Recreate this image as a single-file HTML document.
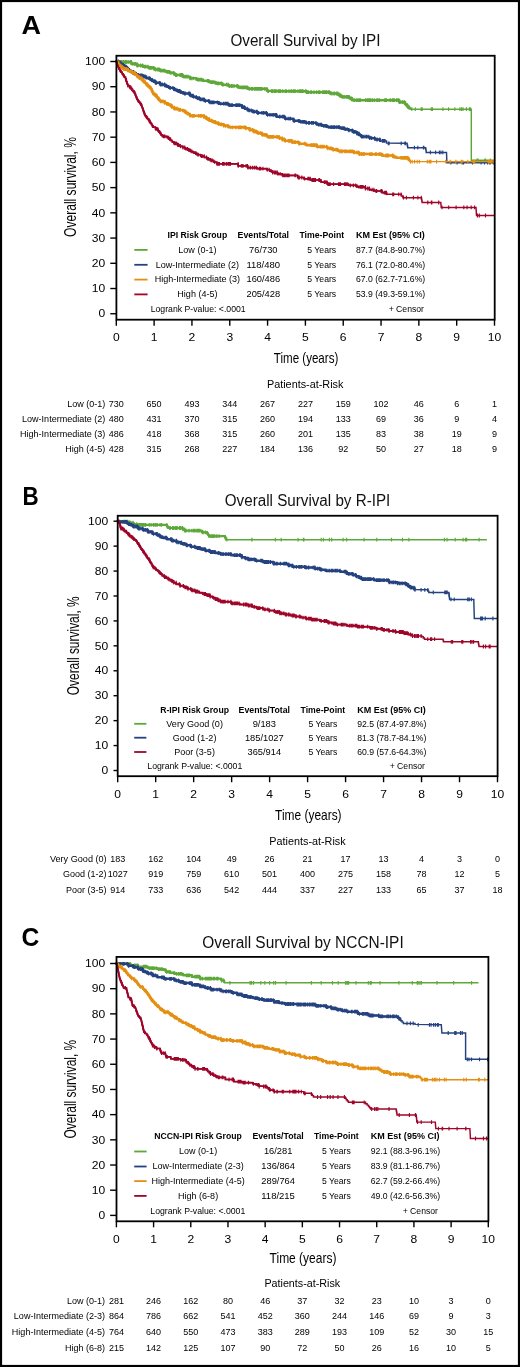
<!DOCTYPE html>
<html><head><meta charset="utf-8"><style>
html,body{margin:0;padding:0;background:#fff;}
body{width:520px;height:1367px;overflow:hidden;}
svg{display:block;font-family:"Liberation Sans", sans-serif;will-change:transform;}
</style></head><body>
<svg width="520" height="1367" viewBox="0 0 520 1367">
<rect x="0" y="0" width="520" height="1367" fill="#fff"/>
<rect x="1" y="1" width="518" height="1365" fill="none" stroke="#000" stroke-width="2.2"/>
<text x="21.50" y="34.10" font-size="25" font-weight="bold" textLength="19.50" lengthAdjust="spacingAndGlyphs" fill="#000">A</text>
<text x="230.40" y="45.80" font-size="16" textLength="150.00" lengthAdjust="spacingAndGlyphs" fill="#111">Overall Survival by IPI</text>
<path d="M116.3,61.5 123.2,62.0 131.3,62.0 131.3,63.8 137.1,63.8 137.1,65.5 142.8,65.5 142.8,66.7 148.6,66.7 148.6,67.8 154.4,67.8 154.4,69.5 160.1,69.5 160.1,70.7 165.9,70.7 165.9,71.8 169.9,71.8 169.9,72.9 174.0,72.9 174.0,74.1 175.5,74.1 175.5,75.0 182.8,75.0 182.8,76.7 190.0,76.7 190.0,78.3 196.4,78.3 196.4,79.6 202.8,79.6 202.8,80.8 209.2,80.8 209.2,82.1 215.6,82.1 215.6,83.4 222.1,83.4 222.1,84.7 228.5,84.7 228.5,86.0 238.1,86.0 238.1,87.4 247.7,87.4 247.7,88.8 266.9,88.8 266.9,90.8 285.0,91.2 306.2,91.2 306.2,92.2 330.0,92.2 330.0,93.5 337.7,93.5 337.7,94.4 339.6,94.4 339.6,95.7 341.5,95.7 341.5,96.9 349.2,96.9 349.2,98.3 352.1,98.3 352.1,100.2 395.4,100.2 399.2,100.2 399.2,102.1 405.0,102.1 405.0,104.0 406.3,104.0 406.3,105.3 407.5,105.3 407.5,106.6 408.8,106.6 408.8,107.9 410.8,107.9 410.8,109.2 471.3,109.2 471.3,160.3 494.5,160.3" fill="none" stroke="#5ea83a" stroke-width="1.45" stroke-linejoin="miter" stroke-linecap="butt"/>
<path d="M116.3,61.5 123.2,62.0 131.3,62.0 131.3,63.8 137.1,63.8 137.1,65.5 142.8,65.5 142.8,66.7 148.6,66.7 148.6,67.8 154.4,67.8 154.4,69.5 160.1,69.5 160.1,70.7 165.9,70.7 165.9,71.8 169.9,71.8 169.9,72.9 174.0,72.9 174.0,74.1 175.5,74.1 175.5,75.0 182.8,75.0 182.8,76.7 190.0,76.7 190.0,78.3 196.4,78.3 196.4,79.6 202.8,79.6 202.8,80.8 209.2,80.8 209.2,82.1 215.6,82.1 215.6,83.4 222.1,83.4 222.1,84.7 228.5,84.7 228.5,86.0 238.1,86.0 238.1,87.4 247.7,87.4 247.7,88.8 266.9,88.8 266.9,90.8 285.0,91.2 306.2,91.2 306.2,92.2 330.0,92.2 330.0,93.5 337.7,93.5 337.7,94.4 339.6,94.4 339.6,95.7 341.5,95.7 341.5,96.9 349.2,96.9 349.2,98.3 352.1,98.3 352.1,100.2 395.4,100.2 399.2,100.2 399.2,102.1 405.0,102.1 405.0,104.0 406.3,104.0 406.3,105.3 407.5,105.3 407.5,106.6 408.8,106.6 408.8,107.9" fill="none" stroke="#5ea83a" stroke-width="2.6" stroke-linejoin="round" stroke-linecap="round"/>
<path d="M119.3,60.1v3.8M120.3,60.1v3.8M117.7,60.1v3.8M121.9,60.1v3.8M122.0,60.1v3.8M120.8,60.1v3.8M117.4,60.1v3.8M125.9,60.1v3.8M125.2,60.1v3.8M130.9,60.1v3.8M131.3,60.1v3.8M123.6,60.1v3.8M130.2,60.1v3.8M128.1,60.1v3.8M126.3,60.1v3.8M135.2,61.9v3.8M133.9,61.9v3.8M135.3,61.9v3.8M135.1,61.9v3.8M132.1,61.9v3.8M135.8,61.9v3.8M142.6,63.6v3.8M140.6,63.6v3.8M137.4,63.6v3.8M137.1,63.6v3.8M137.9,63.6v3.8M144.6,64.8v3.8M144.9,64.8v3.8M148.0,64.8v3.8M144.6,64.8v3.8M146.0,64.8v3.8M149.0,65.9v3.8M152.0,65.9v3.8M153.5,65.9v3.8M149.5,65.9v3.8M149.9,65.9v3.8M151.0,65.9v3.8M157.2,67.6v3.8M159.1,67.6v3.8M158.1,67.6v3.8M157.4,67.6v3.8M159.3,67.6v3.8M155.3,67.6v3.8M162.3,68.8v3.8M163.6,68.8v3.8M160.8,68.8v3.8M164.6,68.8v3.8M160.7,68.8v3.8M161.1,68.8v3.8M173.6,71.0v3.8M169.4,69.9v3.8M169.3,69.9v3.8M167.9,69.9v3.8M168.1,69.9v3.8M170.9,71.0v3.8M167.3,69.9v3.8M166.9,69.9v3.8M174.2,72.2v3.8M175.0,72.2v3.8M186.8,74.8v3.8M182.5,73.1v3.8M180.5,73.1v3.8M181.8,73.1v3.8M175.6,73.1v3.8M185.8,74.8v3.8M180.3,73.1v3.8M180.1,73.1v3.8M176.7,73.1v3.8M182.0,73.1v3.8M184.0,74.8v3.8M181.2,73.1v3.8M188.1,74.8v3.8M185.3,74.8v3.8M200.1,77.7v3.8M207.5,78.9v3.8M200.0,77.7v3.8M201.6,77.7v3.8M191.2,76.4v3.8M199.4,77.7v3.8M198.9,77.7v3.8M197.7,77.7v3.8M198.1,77.7v3.8M201.2,77.7v3.8M200.3,77.7v3.8M199.4,77.7v3.8M193.2,76.4v3.8M198.5,77.7v3.8M208.6,78.9v3.8M198.0,77.7v3.8M190.7,76.4v3.8M190.1,76.4v3.8M200.3,77.7v3.8M211.0,80.2v3.8M211.3,80.2v3.8M218.0,81.5v3.8M228.4,82.8v3.8M218.6,81.5v3.8M218.1,81.5v3.8M217.6,81.5v3.8M218.9,81.5v3.8M217.8,81.5v3.8M223.2,82.8v3.8M226.5,82.8v3.8M222.7,82.8v3.8M217.4,81.5v3.8M221.7,81.5v3.8M226.8,82.8v3.8M212.2,80.2v3.8M213.8,80.2v3.8M221.1,81.5v3.8M222.5,82.8v3.8M221.6,81.5v3.8M244.4,85.5v3.8M237.7,84.1v3.8M244.0,85.5v3.8M247.0,85.5v3.8M236.9,84.1v3.8M245.0,85.5v3.8M242.3,85.5v3.8M245.6,85.5v3.8M229.4,84.1v3.8M246.0,85.5v3.8M243.2,85.5v3.8M247.0,85.5v3.8M247.3,85.5v3.8M234.0,84.1v3.8M241.4,85.5v3.8M231.2,84.1v3.8M239.9,85.5v3.8M246.2,85.5v3.8M232.2,84.1v3.8M249.2,86.9v3.8M251.4,86.9v3.8M251.7,86.9v3.8M249.5,86.9v3.8M266.9,86.9v3.8M264.7,86.9v3.8M256.6,86.9v3.8M262.0,86.9v3.8M261.0,86.9v3.8M257.7,86.9v3.8M255.8,86.9v3.8M260.5,86.9v3.8M258.4,86.9v3.8M252.8,86.9v3.8M254.7,86.9v3.8M259.7,86.9v3.8M259.7,86.9v3.8M251.7,86.9v3.8M259.4,86.9v3.8M282.7,89.3v3.8M278.7,89.3v3.8M268.2,89.3v3.8M274.6,89.3v3.8M268.5,89.3v3.8M267.9,89.3v3.8M271.5,89.3v3.8M275.2,89.3v3.8M280.6,89.3v3.8M278.3,89.3v3.8M272.0,89.3v3.8M279.5,89.3v3.8M276.1,89.3v3.8M276.1,89.3v3.8M271.7,89.3v3.8M274.9,89.3v3.8M273.1,89.3v3.8M280.1,89.3v3.8M294.5,89.3v3.8M295.1,89.3v3.8M295.2,89.3v3.8M299.6,89.3v3.8M300.3,89.3v3.8M302.0,89.3v3.8M293.6,89.3v3.8M301.8,89.3v3.8M305.5,89.3v3.8M306.0,89.3v3.8M300.3,89.3v3.8M286.4,89.3v3.8M303.0,89.3v3.8M302.7,89.3v3.8M285.3,89.3v3.8M291.9,89.3v3.8M291.8,89.3v3.8M300.7,89.3v3.8M297.9,89.3v3.8M291.0,89.3v3.8M289.0,89.3v3.8M308.5,90.3v3.8M325.0,90.3v3.8M328.5,90.3v3.8M311.4,90.3v3.8M323.9,90.3v3.8M328.8,90.3v3.8M310.8,90.3v3.8M319.8,90.3v3.8M316.7,90.3v3.8M329.4,90.3v3.8M326.9,90.3v3.8M306.6,90.3v3.8M311.0,90.3v3.8M326.4,90.3v3.8M319.9,90.3v3.8M318.6,90.3v3.8M325.5,90.3v3.8M324.4,90.3v3.8M328.9,90.3v3.8M314.0,90.3v3.8M307.3,90.3v3.8M322.7,90.3v3.8M307.4,90.3v3.8M319.7,90.3v3.8M333.1,91.6v3.8M334.6,91.6v3.8M331.3,91.6v3.8M331.2,91.6v3.8M334.7,91.6v3.8M336.7,91.6v3.8M337.7,91.6v3.8M341.2,93.8v3.8M339.6,93.8v3.8M339.0,92.5v3.8M339.2,92.5v3.8M344.2,95.0v3.8M342.6,95.0v3.8M348.2,95.0v3.8M346.9,95.0v3.8M346.2,95.0v3.8M347.1,95.0v3.8M349.1,95.0v3.8M342.8,95.0v3.8M351.6,96.4v3.8M350.2,96.4v3.8M350.8,96.4v3.8M360.5,98.3v3.8M370.8,98.3v3.8M358.7,98.3v3.8M392.5,98.3v3.8M360.2,98.3v3.8M379.5,98.3v3.8M376.8,98.3v3.8M394.3,98.3v3.8M386.5,98.3v3.8M367.7,98.3v3.8M368.4,98.3v3.8M354.3,98.3v3.8M354.3,98.3v3.8M365.6,98.3v3.8M393.2,98.3v3.8M354.2,98.3v3.8M359.8,98.3v3.8M379.6,98.3v3.8M367.7,98.3v3.8M360.1,98.3v3.8M393.1,98.3v3.8M354.0,98.3v3.8M378.0,98.3v3.8M370.7,98.3v3.8M367.1,98.3v3.8M360.5,98.3v3.8M359.1,98.3v3.8M369.7,98.3v3.8M384.7,98.3v3.8M372.4,98.3v3.8M385.8,98.3v3.8M390.1,98.3v3.8M359.6,98.3v3.8M390.2,98.3v3.8M377.3,98.3v3.8M370.3,98.3v3.8M374.3,98.3v3.8M390.6,98.3v3.8M369.1,98.3v3.8M356.2,98.3v3.8M393.7,98.3v3.8M357.2,98.3v3.8M356.7,98.3v3.8M396.6,98.3v3.8M396.5,98.3v3.8M397.9,98.3v3.8M398.8,98.3v3.8M404.5,100.2v3.8M402.8,100.2v3.8M402.7,100.2v3.8M402.3,100.2v3.8M399.3,100.2v3.8M400.1,100.2v3.8M407.6,104.7v3.8M405.4,102.1v3.8M407.4,103.4v3.8M406.8,103.4v3.8M409.6,106.0v3.8M409.2,106.0v3.8M469.4,107.3v3.8M422.2,107.3v3.8M463.0,107.3v3.8M442.9,107.3v3.8M415.3,107.3v3.8M459.9,107.3v3.8M411.8,107.3v3.8M461.5,107.3v3.8M431.3,107.3v3.8M466.4,107.3v3.8M454.8,107.3v3.8M432.5,107.3v3.8M448.6,107.3v3.8M470.5,107.3v3.8M421.2,107.3v3.8M478.0,158.4v3.8M490.3,158.4v3.8M477.0,158.4v3.8M477.0,158.4v3.8M485.6,158.4v3.8M484.9,158.4v3.8" stroke="#5ea83a" stroke-width="1.15" fill="none"/>
<path d="M116.3,61.5 118.6,61.5 118.6,62.9 120.9,62.9 120.9,64.3 123.2,64.3 123.2,65.8 125.5,65.8 125.5,67.2 127.2,67.2 127.2,69.0 129.0,69.0 129.0,70.7 131.3,70.7 131.3,71.8 133.6,71.8 133.6,73.0 135.9,73.0 135.9,74.2 138.2,74.2 138.2,75.3 142.8,75.3 142.8,76.5 146.3,76.5 146.3,78.2 149.8,78.2 149.8,79.3 152.1,79.3 152.1,81.1 155.5,81.1 155.5,82.8 160.1,82.8 160.1,84.5 164.7,84.5 164.7,85.7 167.1,85.7 167.1,86.8 169.4,86.8 169.4,87.9 174.0,87.9 174.0,89.7 177.1,89.7 177.1,91.0 180.1,91.0 180.1,92.2 183.2,92.2 183.2,93.5 190.0,93.5 190.0,95.6 193.2,95.6 193.2,96.9 196.4,96.9 196.4,98.1 199.6,98.1 199.6,99.4 204.4,99.4 204.4,100.8 209.2,100.8 209.2,102.3 218.8,102.3 218.8,103.8 228.5,103.8 228.5,105.2 241.9,105.2 241.9,107.1 244.8,107.1 244.8,108.8 247.7,108.8 247.7,110.4 252.5,110.4 252.5,111.7 257.3,111.7 257.3,112.9 266.9,112.9 266.9,114.8 276.5,114.8 276.5,116.7 285.0,116.7 285.0,118.7 293.5,118.7 293.5,120.8 299.9,120.8 299.9,121.8 306.2,121.8 306.2,122.9 316.7,122.9 316.7,124.6 322.0,124.6 322.0,125.8 327.3,125.8 327.3,127.1 340.0,127.1 340.0,128.2 344.2,128.2 344.2,129.2 348.5,129.2 348.5,130.3 352.7,130.3 352.7,131.9 356.9,131.9 356.9,133.5 359.0,133.5 359.0,135.1 361.2,135.1 361.2,136.6 369.6,136.6 369.6,138.1 374.9,138.1 374.9,139.5 380.2,139.5 380.2,140.9 386.5,140.9 386.5,143.0 406.8,143.3 407.1,143.3 407.1,144.8 407.4,144.8 407.4,146.2 407.7,146.2 407.7,147.7 425.5,147.7 425.7,147.7 425.7,149.3 426.0,149.3 426.0,150.8 426.2,150.8 426.2,152.4 446.5,152.4 446.9,162.7 494.5,162.7" fill="none" stroke="#24427f" stroke-width="1.45" stroke-linejoin="miter" stroke-linecap="butt"/>
<path d="M116.3,61.5 118.6,61.5 118.6,62.9 120.9,62.9 120.9,64.3 123.2,64.3 123.2,65.8 125.5,65.8 125.5,67.2 127.2,67.2 127.2,69.0 129.0,69.0 129.0,70.7 131.3,70.7 131.3,71.8 133.6,71.8 133.6,73.0 135.9,73.0 135.9,74.2 138.2,74.2 138.2,75.3 142.8,75.3 142.8,76.5 146.3,76.5 146.3,78.2 149.8,78.2 149.8,79.3 152.1,79.3 152.1,81.1 155.5,81.1 155.5,82.8 160.1,82.8 160.1,84.5 164.7,84.5 164.7,85.7 167.1,85.7 167.1,86.8 169.4,86.8 169.4,87.9 174.0,87.9 174.0,89.7 177.1,89.7 177.1,91.0 180.1,91.0 180.1,92.2 183.2,92.2 183.2,93.5 190.0,93.5 190.0,95.6 193.2,95.6 193.2,96.9 196.4,96.9 196.4,98.1 199.6,98.1 199.6,99.4 204.4,99.4 204.4,100.8 209.2,100.8 209.2,102.3 218.8,102.3 218.8,103.8 228.5,103.8 228.5,105.2 241.9,105.2 241.9,107.1 244.8,107.1 244.8,108.8 247.7,108.8 247.7,110.4 252.5,110.4 252.5,111.7 257.3,111.7 257.3,112.9 266.9,112.9 266.9,114.8 276.5,114.8 276.5,116.7 285.0,116.7 285.0,118.7 293.5,118.7 293.5,120.8 299.9,120.8 299.9,121.8 306.2,121.8 306.2,122.9 316.7,122.9 316.7,124.6 322.0,124.6 322.0,125.8 327.3,125.8 327.3,127.1 340.0,127.1 340.0,128.2 344.2,128.2 344.2,129.2 348.5,129.2 348.5,130.3 352.7,130.3 352.7,131.9 356.9,131.9 356.9,133.5 359.0,133.5 359.0,135.1 361.2,135.1 361.2,136.6 369.6,136.6 369.6,138.1 374.9,138.1 374.9,139.5 380.2,139.5 380.2,140.9" fill="none" stroke="#24427f" stroke-width="2.4" stroke-linejoin="round" stroke-linecap="round"/>
<path d="M118.9,61.0v3.8M120.6,61.0v3.8M118.4,59.6v3.8M118.6,61.0v3.8M121.7,62.4v3.8M123.3,63.9v3.8M123.8,63.9v3.8M124.5,63.9v3.8M126.6,65.3v3.8M125.8,65.3v3.8M128.3,67.0v3.8M127.9,67.0v3.8M133.5,69.9v3.8M133.4,69.9v3.8M132.0,69.9v3.8M131.8,69.9v3.8M129.7,68.8v3.8M136.0,72.2v3.8M133.9,71.1v3.8M134.5,71.1v3.8M134.7,71.1v3.8M133.7,71.1v3.8M140.2,73.4v3.8M142.1,73.4v3.8M140.6,73.4v3.8M141.1,73.4v3.8M145.1,74.6v3.8M144.4,74.6v3.8M143.8,74.6v3.8M149.8,76.3v3.8M149.2,76.3v3.8M148.8,76.3v3.8M150.3,77.4v3.8M150.5,77.4v3.8M154.7,79.2v3.8M153.5,79.2v3.8M155.0,79.2v3.8M159.9,80.9v3.8M159.4,80.9v3.8M155.5,80.9v3.8M156.5,80.9v3.8M162.3,82.6v3.8M164.6,82.6v3.8M161.9,82.6v3.8M160.4,82.6v3.8M168.4,84.9v3.8M166.0,83.8v3.8M165.1,83.8v3.8M166.3,83.8v3.8M172.9,86.0v3.8M169.9,86.0v3.8M170.5,86.0v3.8M169.9,86.0v3.8M181.3,90.3v3.8M175.6,87.8v3.8M179.1,89.1v3.8M178.1,89.1v3.8M175.8,87.8v3.8M180.7,90.3v3.8M175.2,87.8v3.8M179.9,89.1v3.8M175.1,87.8v3.8M184.6,91.6v3.8M185.0,91.6v3.8M189.8,91.6v3.8M188.7,91.6v3.8M185.3,91.6v3.8M189.2,91.6v3.8M193.8,95.0v3.8M198.2,96.2v3.8M196.2,95.0v3.8M191.0,93.7v3.8M199.5,96.2v3.8M192.0,93.7v3.8M192.5,93.7v3.8M197.4,96.2v3.8M193.2,93.7v3.8M200.3,97.5v3.8M200.5,97.5v3.8M205.2,98.9v3.8M201.9,97.5v3.8M205.4,98.9v3.8M203.2,97.5v3.8M204.0,97.5v3.8M208.8,98.9v3.8M204.2,97.5v3.8M225.9,101.8v3.8M212.7,100.4v3.8M212.2,100.4v3.8M226.7,101.8v3.8M225.0,101.8v3.8M214.0,100.4v3.8M212.9,100.4v3.8M223.5,101.8v3.8M227.3,101.8v3.8M213.0,100.4v3.8M227.5,101.8v3.8M226.2,101.8v3.8M220.8,101.8v3.8M217.3,100.4v3.8M211.2,100.4v3.8M209.9,100.4v3.8M227.8,101.8v3.8M237.9,103.3v3.8M231.9,103.3v3.8M239.5,103.3v3.8M236.5,103.3v3.8M232.4,103.3v3.8M230.9,103.3v3.8M238.2,103.3v3.8M229.4,103.3v3.8M231.6,103.3v3.8M236.0,103.3v3.8M239.9,103.3v3.8M236.7,103.3v3.8M247.2,106.8v3.8M243.1,105.2v3.8M242.0,105.2v3.8M243.5,105.2v3.8M244.5,105.2v3.8M249.4,108.5v3.8M251.2,108.5v3.8M253.2,109.8v3.8M249.0,108.5v3.8M251.2,108.5v3.8M256.3,109.8v3.8M257.1,109.8v3.8M254.0,109.8v3.8M254.3,109.8v3.8M258.6,111.0v3.8M257.6,111.0v3.8M257.5,111.0v3.8M266.0,111.0v3.8M264.0,111.0v3.8M266.5,111.0v3.8M257.5,111.0v3.8M263.4,111.0v3.8M261.9,111.0v3.8M270.0,112.9v3.8M276.5,112.9v3.8M267.6,112.9v3.8M272.1,112.9v3.8M274.0,112.9v3.8M275.5,112.9v3.8M274.0,112.9v3.8M273.7,112.9v3.8M284.3,114.8v3.8M279.5,114.8v3.8M282.3,114.8v3.8M284.2,114.8v3.8M283.9,114.8v3.8M280.0,114.8v3.8M283.2,114.8v3.8M289.9,116.8v3.8M290.3,116.8v3.8M288.2,116.8v3.8M290.0,116.8v3.8M290.2,116.8v3.8M285.7,116.8v3.8M290.4,116.8v3.8M304.7,119.9v3.8M302.7,119.9v3.8M298.4,118.9v3.8M302.8,119.9v3.8M300.9,119.9v3.8M299.1,118.9v3.8M304.1,119.9v3.8M294.6,118.9v3.8M303.0,119.9v3.8M293.9,118.9v3.8M301.1,119.9v3.8M308.6,121.0v3.8M313.5,121.0v3.8M311.4,121.0v3.8M312.7,121.0v3.8M315.9,121.0v3.8M308.9,121.0v3.8M306.3,121.0v3.8M309.4,121.0v3.8M313.3,121.0v3.8M318.5,122.7v3.8M326.3,123.9v3.8M323.7,123.9v3.8M321.4,122.7v3.8M326.2,123.9v3.8M320.2,122.7v3.8M323.8,123.9v3.8M318.8,122.7v3.8M321.3,122.7v3.8M325.2,123.9v3.8M338.5,125.2v3.8M332.2,125.2v3.8M334.7,125.2v3.8M331.3,125.2v3.8M329.0,125.2v3.8M333.6,125.2v3.8M337.9,125.2v3.8M338.1,125.2v3.8M336.3,125.2v3.8M339.4,125.2v3.8M330.8,125.2v3.8M343.8,126.3v3.8M342.3,126.3v3.8M341.8,126.3v3.8M343.5,126.3v3.8M345.3,127.3v3.8M344.2,126.3v3.8M342.7,126.3v3.8M347.1,127.3v3.8M352.3,128.4v3.8M349.1,128.4v3.8M348.8,128.4v3.8M355.8,130.0v3.8M348.8,128.4v3.8M354.5,130.0v3.8M353.3,130.0v3.8M360.3,133.2v3.8M357.0,131.6v3.8M357.5,131.6v3.8M358.9,131.6v3.8M368.2,134.7v3.8M363.2,134.7v3.8M362.4,134.7v3.8M361.6,134.7v3.8M366.5,134.7v3.8M365.0,134.7v3.8M366.5,134.7v3.8M366.7,134.7v3.8M379.8,137.6v3.8M376.9,137.6v3.8M371.7,136.2v3.8M374.6,136.2v3.8M371.5,136.2v3.8M369.7,136.2v3.8M374.6,136.2v3.8M377.2,137.6v3.8M371.5,136.2v3.8M382.4,139.0v3.8M384.6,139.0v3.8M383.5,139.0v3.8M384.1,139.0v3.8M385.0,139.0v3.8M382.7,139.0v3.8M404.9,141.4v3.8M388.3,141.4v3.8M405.4,141.4v3.8M401.2,141.4v3.8M389.1,141.4v3.8M423.9,145.8v3.8M414.4,145.8v3.8M417.8,145.8v3.8M423.4,145.8v3.8M435.6,150.5v3.8M439.4,150.5v3.8M430.4,150.5v3.8M440.9,150.5v3.8M442.8,150.5v3.8M481.1,160.8v3.8M457.1,160.8v3.8M489.7,160.8v3.8M493.6,160.8v3.8M493.4,160.8v3.8M472.5,160.8v3.8M484.5,160.8v3.8M462.2,160.8v3.8M490.2,160.8v3.8M487.6,160.8v3.8M463.5,160.8v3.8M450.8,160.8v3.8" stroke="#24427f" stroke-width="1.15" fill="none"/>
<path d="M116.3,61.5 117.5,61.5 117.5,63.0 118.6,63.0 118.6,64.6 119.8,64.6 119.8,66.1 121.5,66.1 121.5,67.5 123.2,67.5 123.2,69.0 127.8,69.0 127.8,70.7 130.2,70.7 130.2,71.8 132.5,71.8 132.5,73.0 134.8,73.0 134.8,74.8 137.1,74.8 137.1,76.5 139.4,76.5 139.4,78.2 141.7,78.2 141.7,79.9 143.2,79.9 143.2,81.4 144.8,81.4 144.8,83.0 146.3,83.0 146.3,84.5 147.8,84.5 147.8,86.0 149.4,86.0 149.4,87.6 150.9,87.6 150.9,89.1 151.7,89.1 151.7,90.7 152.4,90.7 152.4,92.2 153.2,92.2 153.2,93.8 154.9,93.8 154.9,95.5 156.7,95.5 156.7,97.2 157.8,97.2 157.8,98.6 159.0,98.6 159.0,99.9 160.1,99.9 160.1,101.3 164.7,101.3 164.7,103.0 167.1,103.0 167.1,104.2 169.4,104.2 169.4,105.3 171.7,105.3 171.7,107.0 174.0,107.0 174.0,108.7 178.6,108.7 178.6,110.0 183.2,110.0 183.2,111.2 185.5,111.2 185.5,112.7 187.7,112.7 187.7,114.3 190.0,114.3 190.0,115.8 201.5,115.8 204.1,115.8 204.1,117.4 206.6,117.4 206.6,119.0 209.2,119.0 209.2,120.6 212.4,120.6 212.4,121.9 215.6,121.9 215.6,123.1 218.8,123.1 218.8,124.4 223.7,124.4 223.7,125.8 228.5,125.8 228.5,127.3 245.8,127.3 245.8,128.3 249.6,128.3 249.6,129.9 253.5,129.9 253.5,131.5 257.3,131.5 257.3,133.1 262.1,133.1 262.1,134.8 266.9,134.8 266.9,136.5 276.5,136.9 279.3,136.9 279.3,138.2 282.2,138.2 282.2,139.5 285.0,139.5 285.0,140.8 292.1,140.8 292.1,142.2 299.1,142.2 299.1,143.7 306.2,143.7 306.2,145.1 316.8,145.1 316.8,146.7 327.3,146.7 327.3,148.3 332.6,148.3 332.6,149.6 337.9,149.6 337.9,150.8 348.5,151.4 353.8,151.4 353.8,152.5 359.0,152.5 359.0,153.6 373.9,154.2 382.3,154.2 382.3,155.7 390.0,155.5 393.1,155.5 393.1,156.7 396.3,156.7 396.3,157.8 408.0,157.8 408.0,158.5 408.9,158.5 408.9,160.1 409.8,160.1 409.8,161.6 494.5,161.6" fill="none" stroke="#e48f12" stroke-width="1.45" stroke-linejoin="miter" stroke-linecap="butt"/>
<path d="M116.3,61.5 117.5,61.5 117.5,63.0 118.6,63.0 118.6,64.6 119.8,64.6 119.8,66.1 121.5,66.1 121.5,67.5 123.2,67.5 123.2,69.0 127.8,69.0 127.8,70.7 130.2,70.7 130.2,71.8 132.5,71.8 132.5,73.0 134.8,73.0 134.8,74.8 137.1,74.8 137.1,76.5 139.4,76.5 139.4,78.2 141.7,78.2 141.7,79.9 143.2,79.9 143.2,81.4 144.8,81.4 144.8,83.0 146.3,83.0 146.3,84.5 147.8,84.5 147.8,86.0 149.4,86.0 149.4,87.6 150.9,87.6 150.9,89.1 151.7,89.1 151.7,90.7 152.4,90.7 152.4,92.2 153.2,92.2 153.2,93.8 154.9,93.8 154.9,95.5 156.7,95.5 156.7,97.2 157.8,97.2 157.8,98.6 159.0,98.6 159.0,99.9 160.1,99.9 160.1,101.3 164.7,101.3 164.7,103.0 167.1,103.0 167.1,104.2 169.4,104.2 169.4,105.3 171.7,105.3 171.7,107.0 174.0,107.0 174.0,108.7 178.6,108.7 178.6,110.0 183.2,110.0 183.2,111.2 185.5,111.2 185.5,112.7 187.7,112.7 187.7,114.3 190.0,114.3 190.0,115.8 201.5,115.8 204.1,115.8 204.1,117.4 206.6,117.4 206.6,119.0 209.2,119.0 209.2,120.6 212.4,120.6 212.4,121.9 215.6,121.9 215.6,123.1 218.8,123.1 218.8,124.4 223.7,124.4 223.7,125.8 228.5,125.8 228.5,127.3 245.8,127.3 245.8,128.3 249.6,128.3 249.6,129.9 253.5,129.9 253.5,131.5 257.3,131.5 257.3,133.1 262.1,133.1 262.1,134.8 266.9,134.8 266.9,136.5 276.5,136.9 279.3,136.9 279.3,138.2 282.2,138.2 282.2,139.5 285.0,139.5 285.0,140.8 292.1,140.8 292.1,142.2 299.1,142.2 299.1,143.7 306.2,143.7 306.2,145.1 316.8,145.1 316.8,146.7 327.3,146.7 327.3,148.3 332.6,148.3 332.6,149.6 337.9,149.6 337.9,150.8 348.5,151.4 353.8,151.4 353.8,152.5 359.0,152.5 359.0,153.6 373.9,154.2 382.3,154.2 382.3,155.7 390.0,155.5 393.1,155.5 393.1,156.7 396.3,156.7 396.3,157.8 408.0,157.8 408.0,158.5 408.9,158.5 408.9,160.1" fill="none" stroke="#e48f12" stroke-width="2.6" stroke-linejoin="round" stroke-linecap="round"/>
<path d="M118.6,61.1v3.8M118.6,61.1v3.8M116.8,59.6v3.8M121.1,64.2v3.8M120.7,64.2v3.8M122.6,65.6v3.8M122.1,65.6v3.8M125.8,67.1v3.8M126.2,67.1v3.8M123.9,67.1v3.8M125.2,67.1v3.8M132.1,69.9v3.8M128.1,68.8v3.8M131.6,69.9v3.8M128.2,68.8v3.8M131.0,69.9v3.8M134.4,71.1v3.8M136.4,72.8v3.8M132.6,71.1v3.8M132.8,71.1v3.8M139.4,76.3v3.8M137.5,74.6v3.8M141.6,76.3v3.8M141.5,76.3v3.8M143.6,79.5v3.8M142.3,78.0v3.8M143.1,78.0v3.8M144.6,79.5v3.8M142.5,78.0v3.8M146.5,82.6v3.8M147.1,82.6v3.8M150.1,85.7v3.8M148.1,84.1v3.8M152.3,88.8v3.8M152.0,88.8v3.8M153.3,91.9v3.8M155.7,93.6v3.8M156.6,93.6v3.8M159.0,96.7v3.8M157.9,96.7v3.8M157.9,96.7v3.8M163.2,99.4v3.8M160.6,99.4v3.8M161.2,99.4v3.8M161.8,99.4v3.8M168.5,102.2v3.8M167.1,102.2v3.8M164.8,101.1v3.8M168.6,102.2v3.8M171.8,105.1v3.8M170.4,103.4v3.8M171.4,103.4v3.8M171.2,103.4v3.8M174.9,106.8v3.8M179.1,108.0v3.8M175.6,106.8v3.8M180.4,108.0v3.8M174.3,106.8v3.8M176.5,106.8v3.8M177.2,106.8v3.8M179.9,108.0v3.8M186.3,110.8v3.8M184.6,109.3v3.8M185.1,109.3v3.8M186.4,110.8v3.8M189.7,112.4v3.8M186.5,110.8v3.8M189.7,112.4v3.8M200.6,113.9v3.8M194.2,113.9v3.8M192.2,113.9v3.8M198.6,113.9v3.8M200.5,113.9v3.8M190.1,113.9v3.8M193.1,113.9v3.8M198.9,113.9v3.8M193.9,113.9v3.8M192.8,113.9v3.8M190.1,113.9v3.8M206.3,115.5v3.8M209.1,117.1v3.8M209.2,117.1v3.8M205.4,115.5v3.8M201.7,113.9v3.8M204.0,113.9v3.8M207.6,117.1v3.8M215.3,120.0v3.8M211.4,118.7v3.8M214.3,120.0v3.8M213.8,120.0v3.8M215.2,120.0v3.8M211.7,118.7v3.8M218.3,121.2v3.8M217.8,121.2v3.8M221.6,122.5v3.8M227.3,123.9v3.8M221.5,122.5v3.8M228.0,123.9v3.8M223.8,123.9v3.8M225.6,123.9v3.8M225.6,123.9v3.8M220.9,122.5v3.8M221.6,122.5v3.8M240.3,125.4v3.8M240.5,125.4v3.8M230.8,125.4v3.8M243.8,125.4v3.8M235.8,125.4v3.8M232.7,125.4v3.8M236.0,125.4v3.8M245.4,125.4v3.8M238.2,125.4v3.8M239.3,125.4v3.8M244.4,125.4v3.8M245.1,125.4v3.8M241.7,125.4v3.8M235.7,125.4v3.8M238.7,125.4v3.8M244.1,125.4v3.8M252.5,128.0v3.8M249.8,128.0v3.8M250.0,128.0v3.8M254.3,129.6v3.8M252.3,128.0v3.8M246.0,126.4v3.8M254.0,129.6v3.8M256.2,129.6v3.8M255.0,129.6v3.8M256.1,129.6v3.8M262.4,132.9v3.8M264.9,132.9v3.8M260.9,131.2v3.8M258.2,131.2v3.8M260.7,131.2v3.8M260.3,131.2v3.8M266.3,132.9v3.8M263.9,132.9v3.8M272.9,135.0v3.8M268.1,135.0v3.8M272.0,135.0v3.8M273.6,135.0v3.8M270.7,135.0v3.8M269.3,135.0v3.8M270.8,135.0v3.8M270.0,135.0v3.8M273.5,135.0v3.8M277.3,135.0v3.8M279.2,135.0v3.8M282.4,137.6v3.8M283.0,137.6v3.8M282.1,136.3v3.8M284.4,137.6v3.8M279.6,136.3v3.8M276.8,135.0v3.8M294.4,140.3v3.8M288.8,138.9v3.8M299.1,141.8v3.8M292.2,140.3v3.8M290.1,138.9v3.8M291.9,138.9v3.8M305.0,141.8v3.8M285.2,138.9v3.8M292.6,140.3v3.8M290.9,138.9v3.8M289.3,138.9v3.8M294.2,140.3v3.8M289.7,138.9v3.8M304.5,141.8v3.8M295.6,140.3v3.8M299.8,141.8v3.8M288.4,138.9v3.8M294.9,140.3v3.8M297.9,140.3v3.8M311.5,143.2v3.8M315.9,143.2v3.8M324.2,144.8v3.8M323.7,144.8v3.8M311.0,143.2v3.8M317.6,144.8v3.8M322.3,144.8v3.8M314.5,143.2v3.8M320.4,144.8v3.8M320.2,144.8v3.8M326.7,144.8v3.8M317.9,144.8v3.8M320.6,144.8v3.8M313.6,143.2v3.8M321.7,144.8v3.8M313.0,143.2v3.8M316.7,143.2v3.8M313.8,143.2v3.8M312.7,143.2v3.8M329.7,146.4v3.8M333.1,147.7v3.8M330.0,146.4v3.8M327.8,146.4v3.8M335.8,147.7v3.8M330.3,146.4v3.8M337.2,147.7v3.8M333.6,147.7v3.8M331.4,146.4v3.8M336.6,147.7v3.8M341.3,149.5v3.8M339.2,149.5v3.8M344.7,149.5v3.8M346.8,149.5v3.8M344.4,149.5v3.8M346.2,149.5v3.8M342.3,149.5v3.8M344.4,149.5v3.8M340.7,149.5v3.8M352.5,149.5v3.8M352.5,149.5v3.8M352.7,149.5v3.8M357.0,150.6v3.8M350.3,149.5v3.8M350.7,149.5v3.8M351.2,149.5v3.8M358.7,150.6v3.8M354.0,150.6v3.8M349.1,149.5v3.8M372.0,152.3v3.8M371.2,152.3v3.8M364.3,152.3v3.8M369.9,152.3v3.8M363.6,152.3v3.8M361.0,152.3v3.8M371.9,152.3v3.8M371.4,152.3v3.8M362.1,152.3v3.8M372.1,152.3v3.8M359.4,152.3v3.8M363.6,152.3v3.8M359.2,152.3v3.8M375.3,152.3v3.8M379.9,152.3v3.8M376.4,152.3v3.8M375.5,152.3v3.8M375.4,152.3v3.8M376.5,152.3v3.8M381.1,152.3v3.8M379.0,152.3v3.8M387.6,153.6v3.8M386.4,153.6v3.8M385.8,153.6v3.8M386.4,153.6v3.8M387.3,153.6v3.8M388.5,153.6v3.8M386.2,153.6v3.8M392.9,153.6v3.8M394.0,154.8v3.8M392.4,153.6v3.8M392.6,153.6v3.8M393.3,154.8v3.8M394.5,154.8v3.8M407.1,155.9v3.8M402.1,155.9v3.8M406.3,155.9v3.8M404.4,155.9v3.8M407.5,155.9v3.8M404.3,155.9v3.8M401.3,155.9v3.8M401.0,155.9v3.8M403.4,155.9v3.8M405.1,155.9v3.8M406.1,155.9v3.8M408.1,156.6v3.8M408.2,156.6v3.8M414.6,159.7v3.8M410.5,159.7v3.8M430.9,159.7v3.8M419.4,159.7v3.8M467.8,159.7v3.8M462.0,159.7v3.8M491.6,159.7v3.8M491.2,159.7v3.8M473.0,159.7v3.8M490.2,159.7v3.8M412.2,159.7v3.8M429.1,159.7v3.8M488.2,159.7v3.8M450.1,159.7v3.8M427.3,159.7v3.8M473.9,159.7v3.8M445.7,159.7v3.8M455.8,159.7v3.8M436.6,159.7v3.8M430.3,159.7v3.8M417.2,159.7v3.8M461.2,159.7v3.8M490.5,159.7v3.8M493.4,159.7v3.8M474.6,159.7v3.8M488.9,159.7v3.8" stroke="#e48f12" stroke-width="1.15" fill="none"/>
<path d="M116.3,61.5 116.7,61.5 116.7,63.0 117.1,63.0 117.1,64.6 117.5,64.6 117.5,66.1 118.3,66.1 118.3,67.6 119.0,67.6 119.0,69.2 119.8,69.2 119.8,70.7 120.9,70.7 120.9,72.2 122.1,72.2 122.1,73.8 123.2,73.8 123.2,75.3 124.3,75.3 124.3,77.0 125.5,77.0 125.5,78.8 126.0,78.8 126.0,80.2 126.4,80.2 126.4,81.6 126.9,81.6 126.9,82.9 127.3,82.9 127.3,84.3 127.8,84.3 127.8,85.7 129.6,85.7 129.6,87.4 131.3,87.4 131.3,89.1 132.5,89.1 132.5,90.7 133.6,90.7 133.6,92.2 134.8,92.2 134.8,93.8 135.4,93.8 135.4,95.2 135.9,95.2 135.9,96.7 136.5,96.7 136.5,98.1 137.1,98.1 137.1,99.5 138.0,99.5 138.0,100.9 138.9,100.9 138.9,102.3 139.9,102.3 139.9,103.6 140.8,103.6 140.8,105.0 141.7,105.0 141.7,106.4 142.2,106.4 142.2,107.7 142.7,107.7 142.7,109.1 143.2,109.1 143.2,110.4 143.6,110.4 143.6,111.7 144.1,111.7 144.1,113.0 144.6,113.0 144.6,114.4 145.1,114.4 145.1,115.7 146.3,115.7 146.3,117.2 147.4,117.2 147.4,118.8 148.6,118.8 148.6,120.3 149.5,120.3 149.5,121.7 150.4,121.7 150.4,123.1 151.4,123.1 151.4,124.4 152.3,124.4 152.3,125.8 153.2,125.8 153.2,127.2 155.5,127.2 155.5,128.9 157.8,128.9 157.8,130.7 159.0,130.7 159.0,132.1 160.1,132.1 160.1,133.6 161.2,133.6 161.2,135.0 162.4,135.0 162.4,136.4 167.1,136.4 167.1,137.6 168.8,137.6 168.8,139.1 170.6,139.1 170.6,140.5 172.3,140.5 172.3,141.9 174.0,141.9 174.0,143.4 177.5,143.4 177.5,145.0 180.1,145.0 180.1,146.3 182.6,146.3 182.6,147.5 185.2,147.5 185.2,148.8 188.1,148.8 188.1,150.2 190.9,150.2 190.9,151.7 193.8,151.7 193.8,153.1 196.7,153.1 196.7,154.6 200.6,154.6 200.6,156.1 204.4,156.1 204.4,157.5 207.3,157.5 207.3,158.9 210.2,158.9 210.2,160.4 213.6,160.4 213.6,162.1 216.9,162.1 216.9,163.8 238.1,163.8 238.1,165.8 247.7,165.8 247.7,167.7 257.3,167.7 257.3,168.7 266.9,168.7 266.9,169.6 269.8,169.6 269.8,171.1 272.7,171.1 272.7,172.5 277.5,172.5 277.5,173.9 282.3,173.9 282.3,175.4 297.7,175.4 297.7,177.5 304.0,177.5 304.0,178.8 310.4,178.8 310.4,180.0 321.0,180.0 321.0,182.1 327.3,182.1 327.3,184.2 348.5,184.2 348.5,185.3 356.9,185.3 356.9,186.9 365.4,186.9 365.4,188.5 369.6,188.5 369.6,189.8 373.9,189.8 373.9,191.0 382.3,191.0 382.3,192.7 386.5,192.7 386.5,194.3 400.0,194.3 401.4,194.3 401.4,196.0 402.9,196.0 402.9,197.7 421.2,197.7 421.5,197.7 421.5,199.3 421.8,199.3 421.8,200.9 422.1,200.9 422.1,202.5 440.8,202.5 441.2,207.4 476.0,207.4 476.5,215.5 494.5,215.5" fill="none" stroke="#9e0529" stroke-width="1.45" stroke-linejoin="miter" stroke-linecap="butt"/>
<path d="M116.3,61.5 116.7,61.5 116.7,63.0 117.1,63.0 117.1,64.6 117.5,64.6 117.5,66.1 118.3,66.1 118.3,67.6 119.0,67.6 119.0,69.2 119.8,69.2 119.8,70.7 120.9,70.7 120.9,72.2 122.1,72.2 122.1,73.8 123.2,73.8 123.2,75.3 124.3,75.3 124.3,77.0 125.5,77.0 125.5,78.8 126.0,78.8 126.0,80.2 126.4,80.2 126.4,81.6 126.9,81.6 126.9,82.9 127.3,82.9 127.3,84.3 127.8,84.3 127.8,85.7 129.6,85.7 129.6,87.4 131.3,87.4 131.3,89.1 132.5,89.1 132.5,90.7 133.6,90.7 133.6,92.2 134.8,92.2 134.8,93.8 135.4,93.8 135.4,95.2 135.9,95.2 135.9,96.7 136.5,96.7 136.5,98.1 137.1,98.1 137.1,99.5 138.0,99.5 138.0,100.9 138.9,100.9 138.9,102.3 139.9,102.3 139.9,103.6 140.8,103.6 140.8,105.0 141.7,105.0 141.7,106.4 142.2,106.4 142.2,107.7 142.7,107.7 142.7,109.1 143.2,109.1 143.2,110.4 143.6,110.4 143.6,111.7 144.1,111.7 144.1,113.0 144.6,113.0 144.6,114.4 145.1,114.4 145.1,115.7 146.3,115.7 146.3,117.2 147.4,117.2 147.4,118.8 148.6,118.8 148.6,120.3 149.5,120.3 149.5,121.7 150.4,121.7 150.4,123.1 151.4,123.1 151.4,124.4 152.3,124.4 152.3,125.8 153.2,125.8 153.2,127.2 155.5,127.2 155.5,128.9 157.8,128.9 157.8,130.7 159.0,130.7 159.0,132.1 160.1,132.1 160.1,133.6 161.2,133.6 161.2,135.0 162.4,135.0 162.4,136.4 167.1,136.4 167.1,137.6 168.8,137.6 168.8,139.1 170.6,139.1 170.6,140.5 172.3,140.5 172.3,141.9 174.0,141.9 174.0,143.4 177.5,143.4 177.5,145.0 180.1,145.0 180.1,146.3 182.6,146.3 182.6,147.5 185.2,147.5 185.2,148.8 188.1,148.8 188.1,150.2 190.9,150.2 190.9,151.7 193.8,151.7 193.8,153.1 196.7,153.1 196.7,154.6 200.6,154.6 200.6,156.1 204.4,156.1 204.4,157.5 207.3,157.5 207.3,158.9 210.2,158.9 210.2,160.4 213.6,160.4 213.6,162.1 216.9,162.1 216.9,163.8 238.1,163.8 238.1,165.8 247.7,165.8 247.7,167.7 257.3,167.7 257.3,168.7 266.9,168.7 266.9,169.6 269.8,169.6 269.8,171.1 272.7,171.1 272.7,172.5 277.5,172.5 277.5,173.9 282.3,173.9 282.3,175.4 297.7,175.4 297.7,177.5 304.0,177.5 304.0,178.8 310.4,178.8 310.4,180.0 321.0,180.0 321.0,182.1 327.3,182.1 327.3,184.2 348.5,184.2 348.5,185.3 356.9,185.3 356.9,186.9 365.4,186.9 365.4,188.5 369.6,188.5 369.6,189.8 373.9,189.8 373.9,191.0 382.3,191.0 382.3,192.7 386.5,192.7 386.5,194.3" fill="none" stroke="#9e0529" stroke-width="1.7" stroke-linejoin="round" stroke-linecap="round"/>
<path d="M117.1,62.7v3.8M119.5,67.3v3.8M120.6,68.8v3.8M120.3,68.8v3.8M120.6,68.8v3.8M123.5,73.4v3.8M126.0,78.3v3.8M126.2,78.3v3.8M130.7,85.5v3.8M129.9,85.5v3.8M127.9,83.8v3.8M131.8,87.2v3.8M134.3,90.3v3.8M134.1,90.3v3.8M136.7,96.2v3.8M141.5,103.1v3.8M140.8,101.7v3.8M138.3,99.0v3.8M143.4,108.5v3.8M144.3,111.1v3.8M146.6,115.3v3.8M146.4,115.3v3.8M150.0,119.8v3.8M149.1,118.4v3.8M152.4,123.9v3.8M157.7,127.0v3.8M156.4,127.0v3.8M155.7,127.0v3.8M158.4,128.8v3.8M160.9,131.7v3.8M159.8,130.2v3.8M163.4,134.5v3.8M164.9,134.5v3.8M163.6,134.5v3.8M164.6,134.5v3.8M169.8,137.2v3.8M168.0,135.7v3.8M170.5,137.2v3.8M168.7,135.7v3.8M168.7,135.7v3.8M175.3,141.5v3.8M174.3,141.5v3.8M176.3,141.5v3.8M180.5,144.4v3.8M183.0,145.6v3.8M184.7,145.6v3.8M177.8,143.1v3.8M178.6,143.1v3.8M190.0,148.3v3.8M188.8,148.3v3.8M186.1,146.9v3.8M187.6,146.9v3.8M196.0,151.2v3.8M195.6,151.2v3.8M192.1,149.8v3.8M195.9,151.2v3.8M202.2,154.2v3.8M197.8,152.7v3.8M204.2,154.2v3.8M201.3,154.2v3.8M202.3,154.2v3.8M198.3,152.7v3.8M207.8,157.0v3.8M207.8,157.0v3.8M206.5,155.6v3.8M208.6,157.0v3.8M212.2,158.5v3.8M211.3,158.5v3.8M214.8,160.2v3.8M211.0,158.5v3.8M211.7,158.5v3.8M230.5,161.9v3.8M228.7,161.9v3.8M228.4,161.9v3.8M217.7,161.9v3.8M226.2,161.9v3.8M224.2,161.9v3.8M218.9,161.9v3.8M217.0,161.9v3.8M238.1,161.9v3.8M219.5,161.9v3.8M223.3,161.9v3.8M222.6,161.9v3.8M229.6,161.9v3.8M218.5,161.9v3.8M226.9,161.9v3.8M246.1,163.9v3.8M238.2,163.9v3.8M241.3,163.9v3.8M242.9,163.9v3.8M247.4,163.9v3.8M243.1,163.9v3.8M242.7,163.9v3.8M250.5,165.8v3.8M248.0,165.8v3.8M252.5,165.8v3.8M256.4,165.8v3.8M254.8,165.8v3.8M250.2,165.8v3.8M254.3,165.8v3.8M259.8,166.8v3.8M262.9,166.8v3.8M260.7,166.8v3.8M259.6,166.8v3.8M260.1,166.8v3.8M259.3,166.8v3.8M267.1,167.7v3.8M269.2,167.7v3.8M267.4,167.7v3.8M271.3,169.2v3.8M272.7,170.6v3.8M280.1,172.0v3.8M274.5,170.6v3.8M277.3,170.6v3.8M278.0,172.0v3.8M275.9,170.6v3.8M275.5,170.6v3.8M284.4,173.5v3.8M295.6,173.5v3.8M284.0,173.5v3.8M295.0,173.5v3.8M285.7,173.5v3.8M287.0,173.5v3.8M288.3,173.5v3.8M282.8,173.5v3.8M284.3,173.5v3.8M287.9,173.5v3.8M289.1,173.5v3.8M310.3,176.8v3.8M298.3,175.6v3.8M304.5,176.8v3.8M299.3,175.6v3.8M307.9,176.8v3.8M301.8,175.6v3.8M309.0,176.8v3.8M304.6,176.8v3.8M299.3,175.6v3.8M313.0,178.1v3.8M319.6,178.1v3.8M312.0,178.1v3.8M315.5,178.1v3.8M314.3,178.1v3.8M314.1,178.1v3.8M318.9,178.1v3.8M312.7,178.1v3.8M325.2,180.2v3.8M326.9,180.2v3.8M324.3,180.2v3.8M326.8,180.2v3.8M339.5,182.3v3.8M340.5,182.3v3.8M345.1,182.3v3.8M346.3,182.3v3.8M329.7,182.3v3.8M330.2,182.3v3.8M338.6,182.3v3.8M344.5,182.3v3.8M338.6,182.3v3.8M333.6,182.3v3.8M347.7,182.3v3.8M333.6,182.3v3.8M329.1,182.3v3.8M328.4,182.3v3.8M327.9,182.3v3.8M350.3,183.4v3.8M360.6,185.0v3.8M363.1,185.0v3.8M365.4,185.0v3.8M362.2,185.0v3.8M355.7,183.4v3.8M359.0,185.0v3.8M362.6,185.0v3.8M360.6,185.0v3.8M353.4,183.4v3.8M361.4,185.0v3.8M350.3,183.4v3.8M373.9,187.8v3.8M369.4,186.6v3.8M367.7,186.6v3.8M372.1,187.8v3.8M369.2,186.6v3.8M365.4,186.6v3.8M376.1,189.1v3.8M376.7,189.1v3.8M381.8,189.1v3.8M376.0,189.1v3.8M381.0,189.1v3.8M381.1,189.1v3.8M386.5,190.8v3.8M385.5,190.8v3.8M384.3,190.8v3.8M392.7,192.4v3.8M398.7,192.4v3.8M393.7,192.4v3.8M401.1,192.4v3.8M406.4,195.8v3.8M413.4,195.8v3.8M403.5,195.8v3.8M417.9,195.8v3.8M421.3,195.8v3.8M427.8,200.6v3.8M438.7,200.6v3.8M431.4,200.6v3.8M431.8,200.6v3.8M448.7,205.5v3.8M467.1,205.5v3.8M463.8,205.5v3.8M456.1,205.5v3.8M474.6,205.5v3.8M442.0,205.5v3.8M471.2,205.5v3.8M479.3,213.6v3.8M477.5,213.6v3.8M485.5,213.6v3.8" stroke="#9e0529" stroke-width="1.15" fill="none"/>
<rect x="116.40" y="55.75" width="378.30" height="263.95" fill="none" stroke="#000" stroke-width="1.8"/>
<line x1="110.30" y1="313.75" x2="116.40" y2="313.75" stroke="#000" stroke-width="1.4"/>
<text x="105.20" y="317.45" font-size="11" text-anchor="end" textLength="6.73" lengthAdjust="spacingAndGlyphs">0</text>
<line x1="110.30" y1="288.52" x2="116.40" y2="288.52" stroke="#000" stroke-width="1.4"/>
<text x="105.20" y="292.22" font-size="11" text-anchor="end" textLength="13.46" lengthAdjust="spacingAndGlyphs">10</text>
<line x1="110.30" y1="263.30" x2="116.40" y2="263.30" stroke="#000" stroke-width="1.4"/>
<text x="105.20" y="267.00" font-size="11" text-anchor="end" textLength="13.46" lengthAdjust="spacingAndGlyphs">20</text>
<line x1="110.30" y1="238.07" x2="116.40" y2="238.07" stroke="#000" stroke-width="1.4"/>
<text x="105.20" y="241.77" font-size="11" text-anchor="end" textLength="13.46" lengthAdjust="spacingAndGlyphs">30</text>
<line x1="110.30" y1="212.85" x2="116.40" y2="212.85" stroke="#000" stroke-width="1.4"/>
<text x="105.20" y="216.55" font-size="11" text-anchor="end" textLength="13.46" lengthAdjust="spacingAndGlyphs">40</text>
<line x1="110.30" y1="187.62" x2="116.40" y2="187.62" stroke="#000" stroke-width="1.4"/>
<text x="105.20" y="191.32" font-size="11" text-anchor="end" textLength="13.46" lengthAdjust="spacingAndGlyphs">50</text>
<line x1="110.30" y1="162.40" x2="116.40" y2="162.40" stroke="#000" stroke-width="1.4"/>
<text x="105.20" y="166.10" font-size="11" text-anchor="end" textLength="13.46" lengthAdjust="spacingAndGlyphs">60</text>
<line x1="110.30" y1="137.18" x2="116.40" y2="137.18" stroke="#000" stroke-width="1.4"/>
<text x="105.20" y="140.88" font-size="11" text-anchor="end" textLength="13.46" lengthAdjust="spacingAndGlyphs">70</text>
<line x1="110.30" y1="111.95" x2="116.40" y2="111.95" stroke="#000" stroke-width="1.4"/>
<text x="105.20" y="115.65" font-size="11" text-anchor="end" textLength="13.46" lengthAdjust="spacingAndGlyphs">80</text>
<line x1="110.30" y1="86.72" x2="116.40" y2="86.72" stroke="#000" stroke-width="1.4"/>
<text x="105.20" y="90.42" font-size="11" text-anchor="end" textLength="13.46" lengthAdjust="spacingAndGlyphs">90</text>
<line x1="110.30" y1="61.50" x2="116.40" y2="61.50" stroke="#000" stroke-width="1.4"/>
<text x="105.20" y="65.20" font-size="11" text-anchor="end" textLength="20.19" lengthAdjust="spacingAndGlyphs">100</text>
<line x1="116.30" y1="319.70" x2="116.30" y2="325.70" stroke="#000" stroke-width="1.4"/>
<text x="116.30" y="341.20" font-size="11" text-anchor="middle" textLength="6.73" lengthAdjust="spacingAndGlyphs">0</text>
<line x1="154.12" y1="319.70" x2="154.12" y2="325.70" stroke="#000" stroke-width="1.4"/>
<text x="154.12" y="341.20" font-size="11" text-anchor="middle" textLength="6.73" lengthAdjust="spacingAndGlyphs">1</text>
<line x1="191.94" y1="319.70" x2="191.94" y2="325.70" stroke="#000" stroke-width="1.4"/>
<text x="191.94" y="341.20" font-size="11" text-anchor="middle" textLength="6.73" lengthAdjust="spacingAndGlyphs">2</text>
<line x1="229.76" y1="319.70" x2="229.76" y2="325.70" stroke="#000" stroke-width="1.4"/>
<text x="229.76" y="341.20" font-size="11" text-anchor="middle" textLength="6.73" lengthAdjust="spacingAndGlyphs">3</text>
<line x1="267.58" y1="319.70" x2="267.58" y2="325.70" stroke="#000" stroke-width="1.4"/>
<text x="267.58" y="341.20" font-size="11" text-anchor="middle" textLength="6.73" lengthAdjust="spacingAndGlyphs">4</text>
<line x1="305.40" y1="319.70" x2="305.40" y2="325.70" stroke="#000" stroke-width="1.4"/>
<text x="305.40" y="341.20" font-size="11" text-anchor="middle" textLength="6.73" lengthAdjust="spacingAndGlyphs">5</text>
<line x1="343.22" y1="319.70" x2="343.22" y2="325.70" stroke="#000" stroke-width="1.4"/>
<text x="343.22" y="341.20" font-size="11" text-anchor="middle" textLength="6.73" lengthAdjust="spacingAndGlyphs">6</text>
<line x1="381.04" y1="319.70" x2="381.04" y2="325.70" stroke="#000" stroke-width="1.4"/>
<text x="381.04" y="341.20" font-size="11" text-anchor="middle" textLength="6.73" lengthAdjust="spacingAndGlyphs">7</text>
<line x1="418.86" y1="319.70" x2="418.86" y2="325.70" stroke="#000" stroke-width="1.4"/>
<text x="418.86" y="341.20" font-size="11" text-anchor="middle" textLength="6.73" lengthAdjust="spacingAndGlyphs">8</text>
<line x1="456.68" y1="319.70" x2="456.68" y2="325.70" stroke="#000" stroke-width="1.4"/>
<text x="456.68" y="341.20" font-size="11" text-anchor="middle" textLength="6.73" lengthAdjust="spacingAndGlyphs">9</text>
<line x1="494.50" y1="319.70" x2="494.50" y2="325.70" stroke="#000" stroke-width="1.4"/>
<text x="494.50" y="341.20" font-size="11" text-anchor="middle" textLength="13.46" lengthAdjust="spacingAndGlyphs">10</text>
<text x="273.80" y="363.20" font-size="15" textLength="64.50" lengthAdjust="spacingAndGlyphs">Time (years)</text>
<g transform="translate(75.60,187.00) rotate(-90)">
<text x="0.00" y="0.00" font-size="16.3" text-anchor="middle" textLength="100.00" lengthAdjust="spacingAndGlyphs">Overall survival, %</text>
</g>
<text x="305.20" y="388.30" font-size="10.6" text-anchor="middle" textLength="76.50" lengthAdjust="spacingAndGlyphs">Patients-at-Risk</text>
<text x="105.30" y="407.20" font-size="9.3" text-anchor="end" textLength="38.10" lengthAdjust="spacingAndGlyphs">Low (0-1)</text>
<text x="116.30" y="407.20" font-size="9.3" text-anchor="middle" textLength="15.05" lengthAdjust="spacingAndGlyphs">730</text>
<text x="154.12" y="407.20" font-size="9.3" text-anchor="middle" textLength="15.05" lengthAdjust="spacingAndGlyphs">650</text>
<text x="191.94" y="407.20" font-size="9.3" text-anchor="middle" textLength="15.05" lengthAdjust="spacingAndGlyphs">493</text>
<text x="229.76" y="407.20" font-size="9.3" text-anchor="middle" textLength="15.05" lengthAdjust="spacingAndGlyphs">344</text>
<text x="267.58" y="407.20" font-size="9.3" text-anchor="middle" textLength="15.05" lengthAdjust="spacingAndGlyphs">267</text>
<text x="305.40" y="407.20" font-size="9.3" text-anchor="middle" textLength="15.05" lengthAdjust="spacingAndGlyphs">227</text>
<text x="343.22" y="407.20" font-size="9.3" text-anchor="middle" textLength="15.05" lengthAdjust="spacingAndGlyphs">159</text>
<text x="381.04" y="407.20" font-size="9.3" text-anchor="middle" textLength="15.05" lengthAdjust="spacingAndGlyphs">102</text>
<text x="418.86" y="407.20" font-size="9.3" text-anchor="middle" textLength="10.03" lengthAdjust="spacingAndGlyphs">46</text>
<text x="456.68" y="407.20" font-size="9.3" text-anchor="middle" textLength="5.02" lengthAdjust="spacingAndGlyphs">6</text>
<text x="494.50" y="407.20" font-size="9.3" text-anchor="middle" textLength="5.02" lengthAdjust="spacingAndGlyphs">1</text>
<text x="105.30" y="422.00" font-size="9.3" text-anchor="end" textLength="83.23" lengthAdjust="spacingAndGlyphs">Low-Intermediate (2)</text>
<text x="116.30" y="422.00" font-size="9.3" text-anchor="middle" textLength="15.05" lengthAdjust="spacingAndGlyphs">480</text>
<text x="154.12" y="422.00" font-size="9.3" text-anchor="middle" textLength="15.05" lengthAdjust="spacingAndGlyphs">431</text>
<text x="191.94" y="422.00" font-size="9.3" text-anchor="middle" textLength="15.05" lengthAdjust="spacingAndGlyphs">370</text>
<text x="229.76" y="422.00" font-size="9.3" text-anchor="middle" textLength="15.05" lengthAdjust="spacingAndGlyphs">315</text>
<text x="267.58" y="422.00" font-size="9.3" text-anchor="middle" textLength="15.05" lengthAdjust="spacingAndGlyphs">260</text>
<text x="305.40" y="422.00" font-size="9.3" text-anchor="middle" textLength="15.05" lengthAdjust="spacingAndGlyphs">194</text>
<text x="343.22" y="422.00" font-size="9.3" text-anchor="middle" textLength="15.05" lengthAdjust="spacingAndGlyphs">133</text>
<text x="381.04" y="422.00" font-size="9.3" text-anchor="middle" textLength="10.03" lengthAdjust="spacingAndGlyphs">69</text>
<text x="418.86" y="422.00" font-size="9.3" text-anchor="middle" textLength="10.03" lengthAdjust="spacingAndGlyphs">36</text>
<text x="456.68" y="422.00" font-size="9.3" text-anchor="middle" textLength="5.02" lengthAdjust="spacingAndGlyphs">9</text>
<text x="494.50" y="422.00" font-size="9.3" text-anchor="middle" textLength="5.02" lengthAdjust="spacingAndGlyphs">4</text>
<text x="105.30" y="436.80" font-size="9.3" text-anchor="end" textLength="85.23" lengthAdjust="spacingAndGlyphs">High-Intermediate (3)</text>
<text x="116.30" y="436.80" font-size="9.3" text-anchor="middle" textLength="15.05" lengthAdjust="spacingAndGlyphs">486</text>
<text x="154.12" y="436.80" font-size="9.3" text-anchor="middle" textLength="15.05" lengthAdjust="spacingAndGlyphs">418</text>
<text x="191.94" y="436.80" font-size="9.3" text-anchor="middle" textLength="15.05" lengthAdjust="spacingAndGlyphs">368</text>
<text x="229.76" y="436.80" font-size="9.3" text-anchor="middle" textLength="15.05" lengthAdjust="spacingAndGlyphs">315</text>
<text x="267.58" y="436.80" font-size="9.3" text-anchor="middle" textLength="15.05" lengthAdjust="spacingAndGlyphs">260</text>
<text x="305.40" y="436.80" font-size="9.3" text-anchor="middle" textLength="15.05" lengthAdjust="spacingAndGlyphs">201</text>
<text x="343.22" y="436.80" font-size="9.3" text-anchor="middle" textLength="15.05" lengthAdjust="spacingAndGlyphs">135</text>
<text x="381.04" y="436.80" font-size="9.3" text-anchor="middle" textLength="10.03" lengthAdjust="spacingAndGlyphs">83</text>
<text x="418.86" y="436.80" font-size="9.3" text-anchor="middle" textLength="10.03" lengthAdjust="spacingAndGlyphs">38</text>
<text x="456.68" y="436.80" font-size="9.3" text-anchor="middle" textLength="10.03" lengthAdjust="spacingAndGlyphs">19</text>
<text x="494.50" y="436.80" font-size="9.3" text-anchor="middle" textLength="5.02" lengthAdjust="spacingAndGlyphs">9</text>
<text x="105.30" y="451.60" font-size="9.3" text-anchor="end" textLength="40.11" lengthAdjust="spacingAndGlyphs">High (4-5)</text>
<text x="116.30" y="451.60" font-size="9.3" text-anchor="middle" textLength="15.05" lengthAdjust="spacingAndGlyphs">428</text>
<text x="154.12" y="451.60" font-size="9.3" text-anchor="middle" textLength="15.05" lengthAdjust="spacingAndGlyphs">315</text>
<text x="191.94" y="451.60" font-size="9.3" text-anchor="middle" textLength="15.05" lengthAdjust="spacingAndGlyphs">268</text>
<text x="229.76" y="451.60" font-size="9.3" text-anchor="middle" textLength="15.05" lengthAdjust="spacingAndGlyphs">227</text>
<text x="267.58" y="451.60" font-size="9.3" text-anchor="middle" textLength="15.05" lengthAdjust="spacingAndGlyphs">184</text>
<text x="305.40" y="451.60" font-size="9.3" text-anchor="middle" textLength="15.05" lengthAdjust="spacingAndGlyphs">136</text>
<text x="343.22" y="451.60" font-size="9.3" text-anchor="middle" textLength="10.03" lengthAdjust="spacingAndGlyphs">92</text>
<text x="381.04" y="451.60" font-size="9.3" text-anchor="middle" textLength="10.03" lengthAdjust="spacingAndGlyphs">50</text>
<text x="418.86" y="451.60" font-size="9.3" text-anchor="middle" textLength="10.03" lengthAdjust="spacingAndGlyphs">27</text>
<text x="456.68" y="451.60" font-size="9.3" text-anchor="middle" textLength="10.03" lengthAdjust="spacingAndGlyphs">18</text>
<text x="494.50" y="451.60" font-size="9.3" text-anchor="middle" textLength="5.02" lengthAdjust="spacingAndGlyphs">9</text>
<text x="197.40" y="237.70" font-size="9.3" text-anchor="middle" font-weight="bold" textLength="59.59" lengthAdjust="spacingAndGlyphs">IPI Risk Group</text>
<text x="263.30" y="237.70" font-size="9.3" text-anchor="middle" font-weight="bold" textLength="51.43" lengthAdjust="spacingAndGlyphs">Events/Total</text>
<text x="321.75" y="237.70" font-size="9.3" text-anchor="middle" font-weight="bold" textLength="44.69" lengthAdjust="spacingAndGlyphs">Time-Point</text>
<text x="356.00" y="237.70" font-size="9.3" font-weight="bold" textLength="68.67" lengthAdjust="spacingAndGlyphs">KM Est (95% CI)</text>
<line x1="134.30" y1="249.90" x2="147.60" y2="249.90" stroke="#5ea83a" stroke-width="1.8"/>
<text x="197.40" y="252.80" font-size="9.3" text-anchor="middle" textLength="38.10" lengthAdjust="spacingAndGlyphs">Low (0-1)</text>
<text x="263.30" y="252.80" font-size="9.3" text-anchor="middle" textLength="28.44" lengthAdjust="spacingAndGlyphs">76/730</text>
<text x="321.75" y="252.80" font-size="9.3" text-anchor="middle" textLength="28.85" lengthAdjust="spacingAndGlyphs">5 Years</text>
<text x="356.00" y="252.80" font-size="9.3" textLength="69.23" lengthAdjust="spacingAndGlyphs">87.7 (84.8-90.7%)</text>
<line x1="134.30" y1="264.80" x2="147.60" y2="264.80" stroke="#24427f" stroke-width="1.8"/>
<text x="197.40" y="267.50" font-size="9.3" text-anchor="middle" textLength="83.23" lengthAdjust="spacingAndGlyphs">Low-Intermediate (2)</text>
<text x="263.30" y="267.50" font-size="9.3" text-anchor="middle" textLength="33.62" lengthAdjust="spacingAndGlyphs">118/480</text>
<text x="321.75" y="267.50" font-size="9.3" text-anchor="middle" textLength="28.85" lengthAdjust="spacingAndGlyphs">5 Years</text>
<text x="356.00" y="267.50" font-size="9.3" textLength="69.23" lengthAdjust="spacingAndGlyphs">76.1 (72.0-80.4%)</text>
<line x1="134.30" y1="279.60" x2="147.60" y2="279.60" stroke="#e48f12" stroke-width="1.8"/>
<text x="197.40" y="282.30" font-size="9.3" text-anchor="middle" textLength="85.23" lengthAdjust="spacingAndGlyphs">High-Intermediate (3)</text>
<text x="263.30" y="282.30" font-size="9.3" text-anchor="middle" textLength="33.62" lengthAdjust="spacingAndGlyphs">160/486</text>
<text x="321.75" y="282.30" font-size="9.3" text-anchor="middle" textLength="28.85" lengthAdjust="spacingAndGlyphs">5 Years</text>
<text x="356.00" y="282.30" font-size="9.3" textLength="69.23" lengthAdjust="spacingAndGlyphs">67.0 (62.7-71.6%)</text>
<line x1="134.30" y1="294.40" x2="147.60" y2="294.40" stroke="#9e0529" stroke-width="1.8"/>
<text x="197.40" y="297.00" font-size="9.3" text-anchor="middle" textLength="40.11" lengthAdjust="spacingAndGlyphs">High (4-5)</text>
<text x="263.30" y="297.00" font-size="9.3" text-anchor="middle" textLength="33.62" lengthAdjust="spacingAndGlyphs">205/428</text>
<text x="321.75" y="297.00" font-size="9.3" text-anchor="middle" textLength="28.85" lengthAdjust="spacingAndGlyphs">5 Years</text>
<text x="356.00" y="297.00" font-size="9.3" textLength="69.23" lengthAdjust="spacingAndGlyphs">53.9 (49.3-59.1%)</text>
<text x="150.70" y="311.90" font-size="9.3" textLength="94.99" lengthAdjust="spacingAndGlyphs">Logrank P-value: &lt;.0001</text>
<text x="424.00" y="311.90" font-size="9.3" text-anchor="end" textLength="35.34" lengthAdjust="spacingAndGlyphs">+ Censor</text>
<text x="22.60" y="504.60" font-size="25" font-weight="bold" textLength="16.20" lengthAdjust="spacingAndGlyphs" fill="#000">B</text>
<text x="224.80" y="506.00" font-size="16" textLength="165.50" lengthAdjust="spacingAndGlyphs" fill="#111">Overall Survival by R-IPI</text>
<path d="M117.7,521.2 126.5,521.7 129.4,521.7 129.4,522.7 133.2,522.7 133.2,524.1 137.1,524.1 137.1,524.8 165.6,524.9 166.9,524.9 166.9,526.5 168.2,526.5 168.2,528.0 181.1,528.0 182.8,528.0 182.8,529.3 184.6,529.3 184.6,530.6 198.4,530.6 201.9,530.6 201.9,532.3 207.1,532.3 207.1,533.2 207.9,533.2 207.9,534.7 208.8,534.7 208.8,536.1 224.4,536.1 225.0,536.1 225.0,537.3 225.5,537.3 225.5,538.5 226.1,538.5 226.1,539.7 486.9,539.7" fill="none" stroke="#5ea83a" stroke-width="1.45" stroke-linejoin="miter" stroke-linecap="butt"/>
<path d="M117.7,521.2 126.5,521.7 129.4,521.7 129.4,522.7 133.2,522.7 133.2,524.1 137.1,524.1 137.1,524.8 165.6,524.9 166.9,524.9 166.9,526.5 168.2,526.5 168.2,528.0 181.1,528.0 182.8,528.0 182.8,529.3 184.6,529.3 184.6,530.6 198.4,530.6 201.9,530.6 201.9,532.3 207.1,532.3 207.1,533.2 207.9,533.2 207.9,534.7 208.8,534.7 208.8,536.1 224.4,536.1 225.0,536.1 225.0,537.3 225.5,537.3 225.5,538.5" fill="none" stroke="#5ea83a" stroke-width="2.2" stroke-linejoin="round" stroke-linecap="round"/>
<path d="M123.7,519.8v3.8M124.4,519.8v3.8M125.7,519.8v3.8M120.0,519.8v3.8M123.3,519.8v3.8M125.7,519.8v3.8M125.4,519.8v3.8M127.0,519.8v3.8M127.7,519.8v3.8M129.8,520.8v3.8M130.6,520.8v3.8M133.0,520.8v3.8M134.0,522.2v3.8M134.4,522.2v3.8M136.7,522.2v3.8M149.3,523.0v3.8M155.0,523.0v3.8M160.1,523.0v3.8M151.1,523.0v3.8M139.4,523.0v3.8M153.4,523.0v3.8M138.1,523.0v3.8M139.8,523.0v3.8M142.5,523.0v3.8M156.9,523.0v3.8M145.2,523.0v3.8M156.8,523.0v3.8M141.8,523.0v3.8M140.5,523.0v3.8M137.8,523.0v3.8M157.2,523.0v3.8M161.6,523.0v3.8M143.4,523.0v3.8M143.9,523.0v3.8M137.5,523.0v3.8M155.5,523.0v3.8M145.7,523.0v3.8M141.0,523.0v3.8M167.2,524.6v3.8M166.8,523.0v3.8M176.4,526.1v3.8M175.4,526.1v3.8M173.8,526.1v3.8M170.3,526.1v3.8M180.2,526.1v3.8M179.3,526.1v3.8M177.1,526.1v3.8M181.0,526.1v3.8M175.7,526.1v3.8M172.6,526.1v3.8M169.7,526.1v3.8M182.9,527.4v3.8M182.6,526.1v3.8M184.6,527.4v3.8M186.2,528.7v3.8M196.8,528.7v3.8M184.6,528.7v3.8M193.6,528.7v3.8M189.0,528.7v3.8M194.7,528.7v3.8M197.7,528.7v3.8M191.9,528.7v3.8M195.1,528.7v3.8M185.4,528.7v3.8M193.8,528.7v3.8M200.0,528.7v3.8M199.6,528.7v3.8M198.7,528.7v3.8M202.4,530.4v3.8M203.2,530.4v3.8M202.3,530.4v3.8M205.3,530.4v3.8M207.2,531.3v3.8M207.1,531.3v3.8M216.7,534.2v3.8M209.0,534.2v3.8M209.2,534.2v3.8M219.2,534.2v3.8M217.0,534.2v3.8M210.9,534.2v3.8M213.7,534.2v3.8M210.8,534.2v3.8M213.1,534.2v3.8M214.9,534.2v3.8M212.2,534.2v3.8M211.9,534.2v3.8M212.3,534.2v3.8M225.3,535.4v3.8M225.9,536.6v3.8M343.1,537.8v3.8M226.9,537.8v3.8M275.3,537.8v3.8M391.5,537.8v3.8M331.7,537.8v3.8M447.0,537.8v3.8M463.1,537.8v3.8M303.4,537.8v3.8M321.2,537.8v3.8M303.9,537.8v3.8M402.5,537.8v3.8M251.8,537.8v3.8M298.1,537.8v3.8M455.2,537.8v3.8M323.4,537.8v3.8M479.1,537.8v3.8M329.4,537.8v3.8M444.4,537.8v3.8M346.7,537.8v3.8M252.0,537.8v3.8M376.8,537.8v3.8M281.2,537.8v3.8M465.5,537.8v3.8M408.9,537.8v3.8M364.1,537.8v3.8M466.7,537.8v3.8" stroke="#5ea83a" stroke-width="1.15" fill="none"/>
<path d="M117.7,521.2 119.8,521.7 125.5,521.9 127.0,521.9 127.0,523.0 128.4,523.0 128.4,524.1 130.8,524.1 130.8,525.3 133.2,525.3 133.2,526.5 138.0,526.5 138.0,528.5 142.8,528.5 142.8,529.9 147.7,529.9 147.7,531.8 152.5,531.8 152.5,533.8 157.3,533.8 157.3,535.2 159.7,535.2 159.7,536.5 162.1,536.5 162.1,537.7 166.9,537.7 166.9,539.2 171.7,539.2 171.7,540.7 176.5,540.7 176.5,542.2 181.3,542.2 181.3,543.8 186.1,543.8 186.1,545.2 190.9,545.2 190.9,546.7 195.7,546.7 195.7,548.0 200.5,548.0 200.5,549.2 205.2,549.2 205.2,550.6 210.0,550.6 210.0,552.0 215.3,552.0 215.3,553.0 220.6,553.0 220.6,554.1 231.2,554.1 231.2,555.2 241.7,555.2 241.7,557.3 244.9,557.3 244.9,558.3 248.1,558.3 248.1,559.4 255.5,559.4 255.5,560.7 262.9,560.7 262.9,562.0 273.5,562.0 273.5,563.7 288.3,563.7 288.3,565.3 292.5,565.3 292.5,566.8 305.2,566.8 305.2,567.5 315.0,567.5 315.0,568.6 320.3,568.6 320.3,569.7 325.6,569.7 325.6,570.7 340.4,570.7 340.4,571.7 346.7,571.7 346.7,573.8 353.1,573.8 353.1,574.9 355.9,574.9 355.9,576.3 358.7,576.3 358.7,577.7 361.5,577.7 361.5,579.1 374.2,579.1 374.2,580.2 389.0,580.2 389.0,582.3 397.5,582.3 397.5,583.3 406.0,583.3 406.0,584.4 408.1,584.4 408.1,586.0 410.2,586.0 410.2,587.6 414.4,587.6 414.4,589.5 427.1,589.8 428.0,589.8 428.0,591.1 428.8,591.1 428.8,592.4 448.7,592.4 448.9,592.4 448.9,593.8 449.1,593.8 449.1,595.2 449.2,595.2 449.2,596.6 449.4,596.6 449.4,598.0 449.6,598.0 449.6,599.4 473.8,599.4 474.3,618.5 497.5,618.5" fill="none" stroke="#24427f" stroke-width="1.45" stroke-linejoin="miter" stroke-linecap="butt"/>
<path d="M117.7,521.2 119.8,521.7 125.5,521.9 127.0,521.9 127.0,523.0 128.4,523.0 128.4,524.1 130.8,524.1 130.8,525.3 133.2,525.3 133.2,526.5 138.0,526.5 138.0,528.5 142.8,528.5 142.8,529.9 147.7,529.9 147.7,531.8 152.5,531.8 152.5,533.8 157.3,533.8 157.3,535.2 159.7,535.2 159.7,536.5 162.1,536.5 162.1,537.7 166.9,537.7 166.9,539.2 171.7,539.2 171.7,540.7 176.5,540.7 176.5,542.2 181.3,542.2 181.3,543.8 186.1,543.8 186.1,545.2 190.9,545.2 190.9,546.7 195.7,546.7 195.7,548.0 200.5,548.0 200.5,549.2 205.2,549.2 205.2,550.6 210.0,550.6 210.0,552.0 215.3,552.0 215.3,553.0 220.6,553.0 220.6,554.1 231.2,554.1 231.2,555.2 241.7,555.2 241.7,557.3 244.9,557.3 244.9,558.3 248.1,558.3 248.1,559.4 255.5,559.4 255.5,560.7 262.9,560.7 262.9,562.0 273.5,562.0 273.5,563.7 288.3,563.7 288.3,565.3 292.5,565.3 292.5,566.8 305.2,566.8 305.2,567.5 315.0,567.5 315.0,568.6 320.3,568.6 320.3,569.7 325.6,569.7 325.6,570.7 340.4,570.7 340.4,571.7 346.7,571.7 346.7,573.8 353.1,573.8 353.1,574.9 355.9,574.9 355.9,576.3 358.7,576.3 358.7,577.7 361.5,577.7 361.5,579.1 374.2,579.1 374.2,580.2 389.0,580.2 389.0,582.3 397.5,582.3 397.5,583.3 406.0,583.3 406.0,584.4 408.1,584.4 408.1,586.0 410.2,586.0 410.2,587.6 414.4,587.6 414.4,589.5" fill="none" stroke="#24427f" stroke-width="2.6" stroke-linejoin="round" stroke-linecap="round"/>
<path d="M119.1,519.8v3.8M119.0,519.8v3.8M121.0,520.0v3.8M124.3,520.0v3.8M124.4,520.0v3.8M122.7,520.0v3.8M122.7,520.0v3.8M125.5,520.0v3.8M126.6,520.0v3.8M127.2,521.1v3.8M132.2,523.4v3.8M129.5,522.2v3.8M129.5,522.2v3.8M128.6,522.2v3.8M133.2,523.4v3.8M137.4,524.6v3.8M136.2,524.6v3.8M133.4,524.6v3.8M134.8,524.6v3.8M138.6,526.6v3.8M142.6,526.6v3.8M139.8,526.6v3.8M138.7,526.6v3.8M143.4,528.0v3.8M147.3,528.0v3.8M145.0,528.0v3.8M145.5,528.0v3.8M150.0,529.9v3.8M148.6,529.9v3.8M147.9,529.9v3.8M151.9,529.9v3.8M156.2,531.9v3.8M153.5,531.9v3.8M157.2,531.9v3.8M156.8,531.9v3.8M156.1,531.9v3.8M160.1,534.6v3.8M160.8,534.6v3.8M157.9,533.3v3.8M159.6,533.3v3.8M164.0,535.8v3.8M171.0,537.3v3.8M170.6,537.3v3.8M166.0,535.8v3.8M165.6,535.8v3.8M166.4,535.8v3.8M165.8,535.8v3.8M171.7,537.3v3.8M172.0,538.8v3.8M172.6,538.8v3.8M178.6,540.4v3.8M181.2,540.4v3.8M176.5,538.8v3.8M176.4,538.8v3.8M177.0,540.4v3.8M178.9,540.4v3.8M173.8,538.8v3.8M186.6,543.4v3.8M187.3,543.4v3.8M183.0,541.9v3.8M182.9,541.9v3.8M184.6,541.9v3.8M190.2,543.4v3.8M184.6,541.9v3.8M187.0,543.4v3.8M184.2,541.9v3.8M191.5,544.8v3.8M198.7,546.1v3.8M198.4,546.1v3.8M194.5,544.8v3.8M197.5,546.1v3.8M197.4,546.1v3.8M199.5,546.1v3.8M200.1,546.1v3.8M194.8,544.8v3.8M209.6,548.7v3.8M206.1,548.7v3.8M208.9,548.7v3.8M205.2,547.3v3.8M204.1,547.3v3.8M202.8,547.3v3.8M208.8,548.7v3.8M202.0,547.3v3.8M218.5,551.1v3.8M218.2,551.1v3.8M215.1,550.1v3.8M218.9,551.1v3.8M210.6,550.1v3.8M212.7,550.1v3.8M213.1,550.1v3.8M214.4,550.1v3.8M211.8,550.1v3.8M210.7,550.1v3.8M230.1,552.2v3.8M231.0,552.2v3.8M228.5,552.2v3.8M225.7,552.2v3.8M223.3,552.2v3.8M230.8,552.2v3.8M226.2,552.2v3.8M228.3,552.2v3.8M220.9,552.2v3.8M222.8,552.2v3.8M239.5,553.3v3.8M240.5,553.3v3.8M237.5,553.3v3.8M235.7,553.3v3.8M237.3,553.3v3.8M240.1,553.3v3.8M234.4,553.3v3.8M236.8,553.3v3.8M234.1,553.3v3.8M241.8,555.4v3.8M246.1,556.4v3.8M247.8,556.4v3.8M241.9,555.4v3.8M245.5,556.4v3.8M260.7,558.8v3.8M256.7,558.8v3.8M251.9,557.5v3.8M254.1,557.5v3.8M262.3,558.8v3.8M261.5,558.8v3.8M250.1,557.5v3.8M249.5,557.5v3.8M249.5,557.5v3.8M248.5,557.5v3.8M254.7,557.5v3.8M250.2,557.5v3.8M260.9,558.8v3.8M264.2,560.1v3.8M268.6,560.1v3.8M266.3,560.1v3.8M268.1,560.1v3.8M265.2,560.1v3.8M264.7,560.1v3.8M264.8,560.1v3.8M266.9,560.1v3.8M270.4,560.1v3.8M274.2,561.8v3.8M284.0,561.8v3.8M286.4,561.8v3.8M285.0,561.8v3.8M285.2,561.8v3.8M273.6,561.8v3.8M280.4,561.8v3.8M274.4,561.8v3.8M284.8,561.8v3.8M276.1,561.8v3.8M284.0,561.8v3.8M277.2,561.8v3.8M283.8,561.8v3.8M288.5,563.4v3.8M289.9,563.4v3.8M289.6,563.4v3.8M292.1,563.4v3.8M298.9,564.9v3.8M299.5,564.9v3.8M304.5,564.9v3.8M293.8,564.9v3.8M300.1,564.9v3.8M299.0,564.9v3.8M301.8,564.9v3.8M304.8,564.9v3.8M296.4,564.9v3.8M301.4,564.9v3.8M299.2,564.9v3.8M299.6,564.9v3.8M313.2,565.6v3.8M314.8,565.6v3.8M308.7,565.6v3.8M308.3,565.6v3.8M314.9,565.6v3.8M306.3,565.6v3.8M305.9,565.6v3.8M305.9,565.6v3.8M313.2,565.6v3.8M319.7,566.7v3.8M321.6,567.8v3.8M315.2,566.7v3.8M321.8,567.8v3.8M319.7,566.7v3.8M320.5,567.8v3.8M319.1,566.7v3.8M319.3,566.7v3.8M317.4,566.7v3.8M332.0,568.8v3.8M329.3,568.8v3.8M336.0,568.8v3.8M337.7,568.8v3.8M336.3,568.8v3.8M332.3,568.8v3.8M329.1,568.8v3.8M331.3,568.8v3.8M332.8,568.8v3.8M335.0,568.8v3.8M339.9,568.8v3.8M326.9,568.8v3.8M332.7,568.8v3.8M332.9,568.8v3.8M346.0,569.8v3.8M345.3,569.8v3.8M344.3,569.8v3.8M345.2,569.8v3.8M344.6,569.8v3.8M351.2,571.9v3.8M351.1,571.9v3.8M348.3,571.9v3.8M352.6,571.9v3.8M349.2,571.9v3.8M360.0,575.8v3.8M361.2,575.8v3.8M361.4,575.8v3.8M353.2,573.0v3.8M355.7,573.0v3.8M355.7,573.0v3.8M356.4,574.4v3.8M368.5,577.2v3.8M362.5,577.2v3.8M365.3,577.2v3.8M373.5,577.2v3.8M370.9,577.2v3.8M367.4,577.2v3.8M362.9,577.2v3.8M373.6,577.2v3.8M370.4,577.2v3.8M364.1,577.2v3.8M365.8,577.2v3.8M369.6,577.2v3.8M378.1,578.3v3.8M388.3,578.3v3.8M379.0,578.3v3.8M378.0,578.3v3.8M386.7,578.3v3.8M376.5,578.3v3.8M384.3,578.3v3.8M377.2,578.3v3.8M383.0,578.3v3.8M378.3,578.3v3.8M379.8,578.3v3.8M388.1,578.3v3.8M381.1,578.3v3.8M399.5,581.4v3.8M393.8,580.4v3.8M392.0,580.4v3.8M395.5,580.4v3.8M393.6,580.4v3.8M392.2,580.4v3.8M405.3,581.4v3.8M389.6,580.4v3.8M402.8,581.4v3.8M404.9,581.4v3.8M401.0,581.4v3.8M389.3,580.4v3.8M397.5,581.4v3.8M389.7,580.4v3.8M399.3,581.4v3.8M407.0,582.5v3.8M406.0,582.5v3.8M408.3,584.1v3.8M406.4,582.5v3.8M412.1,585.7v3.8M414.0,585.7v3.8M411.8,585.7v3.8M410.8,585.7v3.8M424.8,587.9v3.8M421.1,587.9v3.8M415.0,587.9v3.8M427.8,587.9v3.8M433.3,590.5v3.8M444.8,590.5v3.8M445.6,590.5v3.8M447.2,590.5v3.8M446.4,590.5v3.8M449.2,593.3v3.8M471.4,597.5v3.8M467.7,597.5v3.8M468.0,597.5v3.8M454.2,597.5v3.8M451.0,597.5v3.8M469.3,597.5v3.8M485.2,616.6v3.8M492.9,616.6v3.8M482.1,616.6v3.8M480.6,616.6v3.8M482.5,616.6v3.8M481.2,616.6v3.8" stroke="#24427f" stroke-width="1.15" fill="none"/>
<path d="M117.7,521.2 118.8,521.2 118.8,522.9 119.8,522.9 119.8,524.6 120.1,524.6 120.1,525.9 120.4,525.9 120.4,527.2 120.7,527.2 120.7,528.5 123.6,528.5 123.6,530.4 125.0,530.4 125.0,531.6 126.5,531.6 126.5,532.8 128.0,532.8 128.0,534.2 129.4,534.2 129.4,535.7 131.3,535.7 131.3,537.4 133.2,537.4 133.2,539.0 134.7,539.0 134.7,540.1 136.2,540.1 136.2,541.2 137.1,541.2 137.1,542.7 138.0,542.7 138.0,544.2 139.0,544.2 139.0,545.8 139.9,545.8 139.9,547.3 140.8,547.3 140.8,548.8 142.0,548.8 142.0,550.3 143.1,550.3 143.1,551.9 144.2,551.9 144.2,553.5 145.4,553.5 145.4,555.0 146.3,555.0 146.3,556.4 147.2,556.4 147.2,557.8 148.2,557.8 148.2,559.1 149.1,559.1 149.1,560.5 150.0,560.5 150.0,561.9 150.8,561.9 150.8,563.2 151.6,563.2 151.6,564.6 152.3,564.6 152.3,565.9 153.1,565.9 153.1,567.3 154.6,567.3 154.6,568.6 156.2,568.6 156.2,569.9 157.7,569.9 157.7,571.2 159.2,571.2 159.2,572.7 160.8,572.7 160.8,574.3 162.3,574.3 162.3,575.8 164.4,575.8 164.4,577.1 166.4,577.1 166.4,578.3 168.5,578.3 168.5,579.6 171.1,579.6 171.1,581.1 173.6,581.1 173.6,582.7 176.2,582.7 176.2,584.2 180.0,584.2 180.0,585.8 183.8,585.8 183.8,587.3 187.7,587.3 187.7,588.8 191.5,588.8 191.5,590.4 195.3,590.4 195.3,591.5 199.2,591.5 199.2,592.7 202.8,592.7 202.8,594.0 206.4,594.0 206.4,595.2 210.0,595.2 210.0,596.5 212.7,596.5 212.7,597.8 215.3,597.8 215.3,599.1 217.9,599.1 217.9,600.4 220.6,600.4 220.6,601.7 231.2,601.7 231.2,603.4 239.6,603.4 239.6,604.5 248.1,604.5 248.1,605.5 252.3,605.5 252.3,606.8 256.5,606.8 256.5,608.1 262.9,608.1 262.9,609.4 269.2,609.4 269.2,610.6 274.5,610.6 274.5,612.0 279.8,612.0 279.8,613.4 285.1,613.4 285.1,614.5 290.4,614.5 290.4,615.5 295.7,615.5 295.7,616.5 301.0,616.5 301.0,617.6 306.2,617.6 306.2,618.7 311.5,618.7 311.5,619.7 320.0,619.7 320.0,621.0 327.7,621.0 327.7,622.5 331.9,622.5 331.9,623.5 336.2,623.5 336.2,624.6 346.8,624.6 346.8,625.7 357.3,625.7 357.3,626.7 370.0,626.7 370.0,627.8 376.4,627.8 376.4,628.8 382.7,628.8 382.7,629.9 389.0,629.9 389.0,631.0 395.4,631.0 395.4,632.0 403.9,632.0 403.9,633.1 408.1,633.1 408.1,634.5 412.3,634.5 412.3,636.0 421.9,636.0 421.9,636.6 423.2,636.6 423.2,637.9 424.5,637.9 424.5,639.2 442.7,639.2 443.1,639.2 443.1,640.5 443.5,640.5 443.5,641.8 478.1,641.8 478.4,641.8 478.4,643.4 478.7,643.4 478.7,644.9 479.0,644.9 479.0,646.5 497.5,646.5" fill="none" stroke="#9e0529" stroke-width="1.45" stroke-linejoin="miter" stroke-linecap="butt"/>
<path d="M117.7,521.2 118.8,521.2 118.8,522.9 119.8,522.9 119.8,524.6 120.1,524.6 120.1,525.9 120.4,525.9 120.4,527.2 120.7,527.2 120.7,528.5 123.6,528.5 123.6,530.4 125.0,530.4 125.0,531.6 126.5,531.6 126.5,532.8 128.0,532.8 128.0,534.2 129.4,534.2 129.4,535.7 131.3,535.7 131.3,537.4 133.2,537.4 133.2,539.0 134.7,539.0 134.7,540.1 136.2,540.1 136.2,541.2 137.1,541.2 137.1,542.7 138.0,542.7 138.0,544.2 139.0,544.2 139.0,545.8 139.9,545.8 139.9,547.3 140.8,547.3 140.8,548.8 142.0,548.8 142.0,550.3 143.1,550.3 143.1,551.9 144.2,551.9 144.2,553.5 145.4,553.5 145.4,555.0 146.3,555.0 146.3,556.4 147.2,556.4 147.2,557.8 148.2,557.8 148.2,559.1 149.1,559.1 149.1,560.5 150.0,560.5 150.0,561.9 150.8,561.9 150.8,563.2 151.6,563.2 151.6,564.6 152.3,564.6 152.3,565.9 153.1,565.9 153.1,567.3 154.6,567.3 154.6,568.6 156.2,568.6 156.2,569.9 157.7,569.9 157.7,571.2 159.2,571.2 159.2,572.7 160.8,572.7 160.8,574.3 162.3,574.3 162.3,575.8 164.4,575.8 164.4,577.1 166.4,577.1 166.4,578.3 168.5,578.3 168.5,579.6 171.1,579.6 171.1,581.1 173.6,581.1 173.6,582.7 176.2,582.7 176.2,584.2 180.0,584.2 180.0,585.8 183.8,585.8 183.8,587.3 187.7,587.3 187.7,588.8 191.5,588.8 191.5,590.4 195.3,590.4 195.3,591.5 199.2,591.5 199.2,592.7 202.8,592.7 202.8,594.0 206.4,594.0 206.4,595.2 210.0,595.2 210.0,596.5 212.7,596.5 212.7,597.8 215.3,597.8 215.3,599.1 217.9,599.1 217.9,600.4 220.6,600.4 220.6,601.7 231.2,601.7 231.2,603.4 239.6,603.4 239.6,604.5 248.1,604.5 248.1,605.5 252.3,605.5 252.3,606.8 256.5,606.8 256.5,608.1 262.9,608.1 262.9,609.4 269.2,609.4 269.2,610.6 274.5,610.6 274.5,612.0 279.8,612.0 279.8,613.4 285.1,613.4 285.1,614.5 290.4,614.5 290.4,615.5 295.7,615.5 295.7,616.5 301.0,616.5 301.0,617.6 306.2,617.6 306.2,618.7 311.5,618.7 311.5,619.7 320.0,619.7 320.0,621.0 327.7,621.0 327.7,622.5 331.9,622.5 331.9,623.5 336.2,623.5 336.2,624.6 346.8,624.6 346.8,625.7 357.3,625.7 357.3,626.7 370.0,626.7 370.0,627.8 376.4,627.8 376.4,628.8 382.7,628.8 382.7,629.9 389.0,629.9 389.0,631.0 395.4,631.0 395.4,632.0 403.9,632.0 403.9,633.1 408.1,633.1 408.1,634.5 412.3,634.5 412.3,636.0" fill="none" stroke="#9e0529" stroke-width="2.0" stroke-linejoin="round" stroke-linecap="round"/>
<path d="M118.0,519.3v3.8M120.7,525.3v3.8M121.0,526.6v3.8M122.6,526.6v3.8M121.7,526.6v3.8M124.3,528.5v3.8M126.4,529.7v3.8M128.2,532.4v3.8M129.2,532.4v3.8M128.5,532.4v3.8M132.1,535.5v3.8M129.6,533.8v3.8M132.7,535.5v3.8M134.1,537.1v3.8M133.8,537.1v3.8M138.9,542.3v3.8M140.5,545.4v3.8M139.8,543.9v3.8M143.4,550.0v3.8M144.0,550.0v3.8M143.6,550.0v3.8M149.8,558.6v3.8M146.8,554.5v3.8M149.0,557.2v3.8M149.8,558.6v3.8M150.4,560.0v3.8M152.6,564.0v3.8M154.0,565.4v3.8M153.3,565.4v3.8M155.5,566.7v3.8M153.2,565.4v3.8M160.0,570.8v3.8M160.1,570.8v3.8M159.6,570.8v3.8M168.0,576.4v3.8M164.2,573.9v3.8M164.6,575.2v3.8M165.9,575.2v3.8M164.1,573.9v3.8M172.7,579.2v3.8M171.8,579.2v3.8M173.7,580.8v3.8M172.6,579.2v3.8M169.2,577.7v3.8M176.2,580.8v3.8M179.5,582.3v3.8M179.3,582.3v3.8M183.3,583.9v3.8M183.4,583.9v3.8M180.1,583.9v3.8M179.2,582.3v3.8M190.7,586.9v3.8M185.1,585.4v3.8M188.0,586.9v3.8M186.5,585.4v3.8M186.3,585.4v3.8M186.6,585.4v3.8M185.3,585.4v3.8M195.6,589.6v3.8M197.6,589.6v3.8M196.5,589.6v3.8M193.1,588.5v3.8M196.8,589.6v3.8M191.9,588.5v3.8M194.7,588.5v3.8M209.1,593.3v3.8M204.2,592.1v3.8M208.3,593.3v3.8M204.6,592.1v3.8M204.9,592.1v3.8M205.5,592.1v3.8M209.9,593.3v3.8M207.2,593.3v3.8M217.7,597.2v3.8M216.8,597.2v3.8M213.7,595.9v3.8M218.3,598.5v3.8M218.7,598.5v3.8M216.4,597.2v3.8M220.0,598.5v3.8M210.2,594.6v3.8M215.3,597.2v3.8M224.2,599.8v3.8M222.4,599.8v3.8M227.9,599.8v3.8M225.2,599.8v3.8M223.5,599.8v3.8M221.0,599.8v3.8M230.9,599.8v3.8M224.3,599.8v3.8M234.9,601.5v3.8M235.5,601.5v3.8M245.8,602.6v3.8M234.3,601.5v3.8M235.9,601.5v3.8M232.8,601.5v3.8M239.1,601.5v3.8M234.7,601.5v3.8M237.0,601.5v3.8M243.6,602.6v3.8M246.8,602.6v3.8M245.3,602.6v3.8M231.8,601.5v3.8M237.6,601.5v3.8M248.4,603.6v3.8M249.8,603.6v3.8M252.2,603.6v3.8M251.3,603.6v3.8M254.4,604.9v3.8M254.1,604.9v3.8M259.7,606.2v3.8M259.4,606.2v3.8M259.9,606.2v3.8M257.3,606.2v3.8M265.0,607.5v3.8M258.5,606.2v3.8M267.8,607.5v3.8M264.7,607.5v3.8M257.2,606.2v3.8M262.8,606.2v3.8M269.6,608.7v3.8M274.4,608.7v3.8M269.5,608.7v3.8M277.3,610.1v3.8M269.2,608.7v3.8M275.9,610.1v3.8M279.6,610.1v3.8M278.2,610.1v3.8M285.5,612.6v3.8M281.3,611.5v3.8M283.4,611.5v3.8M289.0,612.6v3.8M288.5,612.6v3.8M279.9,611.5v3.8M283.8,611.5v3.8M286.6,612.6v3.8M281.7,611.5v3.8M299.9,614.6v3.8M296.2,614.6v3.8M294.2,613.6v3.8M299.4,614.6v3.8M295.8,614.6v3.8M292.4,613.6v3.8M293.3,613.6v3.8M292.1,613.6v3.8M306.4,616.8v3.8M308.3,616.8v3.8M309.6,616.8v3.8M311.2,616.8v3.8M303.0,615.7v3.8M305.3,615.7v3.8M310.2,616.8v3.8M309.0,616.8v3.8M317.1,617.8v3.8M313.2,617.8v3.8M312.9,617.8v3.8M311.9,617.8v3.8M314.7,617.8v3.8M313.5,617.8v3.8M315.9,617.8v3.8M321.2,619.1v3.8M324.3,619.1v3.8M326.7,619.1v3.8M324.6,619.1v3.8M324.1,619.1v3.8M325.9,619.1v3.8M335.8,621.6v3.8M333.5,621.6v3.8M334.6,621.6v3.8M334.7,621.6v3.8M328.5,620.6v3.8M328.3,620.6v3.8M329.2,620.6v3.8M356.0,623.8v3.8M355.4,623.8v3.8M344.9,622.7v3.8M349.3,623.8v3.8M351.8,623.8v3.8M343.2,622.7v3.8M356.7,623.8v3.8M356.1,623.8v3.8M351.5,623.8v3.8M355.2,623.8v3.8M353.1,623.8v3.8M350.0,623.8v3.8M343.0,622.7v3.8M342.1,622.7v3.8M341.2,622.7v3.8M337.4,622.7v3.8M355.7,623.8v3.8M357.6,624.8v3.8M361.3,624.8v3.8M358.6,624.8v3.8M363.0,624.8v3.8M361.5,624.8v3.8M359.5,624.8v3.8M363.4,624.8v3.8M362.6,624.8v3.8M361.8,624.8v3.8M367.6,624.8v3.8M376.9,626.9v3.8M381.1,626.9v3.8M382.2,626.9v3.8M374.8,625.9v3.8M370.5,625.9v3.8M382.1,626.9v3.8M376.5,626.9v3.8M372.8,625.9v3.8M371.6,625.9v3.8M373.0,625.9v3.8M384.5,628.0v3.8M383.3,628.0v3.8M395.3,629.1v3.8M393.1,629.1v3.8M384.1,628.0v3.8M388.8,628.0v3.8M392.9,629.1v3.8M389.1,629.1v3.8M383.6,628.0v3.8M387.0,628.0v3.8M403.2,630.1v3.8M400.4,630.1v3.8M399.3,630.1v3.8M400.8,630.1v3.8M395.8,630.1v3.8M401.2,630.1v3.8M402.3,630.1v3.8M406.9,631.2v3.8M406.3,631.2v3.8M404.0,631.2v3.8M404.6,631.2v3.8M405.2,631.2v3.8M407.7,631.2v3.8M410.4,632.6v3.8M416.8,634.1v3.8M418.4,634.1v3.8M418.3,634.1v3.8M412.5,634.1v3.8M421.1,634.1v3.8M417.9,634.1v3.8M415.2,634.1v3.8M414.6,634.1v3.8M430.6,637.3v3.8M431.7,637.3v3.8M434.6,637.3v3.8M427.7,637.3v3.8M462.8,639.9v3.8M472.0,639.9v3.8M452.6,639.9v3.8M473.6,639.9v3.8M470.6,639.9v3.8M451.3,639.9v3.8M461.8,639.9v3.8M490.1,644.6v3.8M483.4,644.6v3.8M489.2,644.6v3.8M485.6,644.6v3.8" stroke="#9e0529" stroke-width="1.15" fill="none"/>
<rect x="117.70" y="515.75" width="379.90" height="260.45" fill="none" stroke="#000" stroke-width="1.8"/>
<line x1="113.50" y1="770.50" x2="117.70" y2="770.50" stroke="#000" stroke-width="1.4"/>
<text x="108.20" y="774.20" font-size="11" text-anchor="end" textLength="6.73" lengthAdjust="spacingAndGlyphs">0</text>
<line x1="113.50" y1="745.57" x2="117.70" y2="745.57" stroke="#000" stroke-width="1.4"/>
<text x="108.20" y="749.27" font-size="11" text-anchor="end" textLength="13.46" lengthAdjust="spacingAndGlyphs">10</text>
<line x1="113.50" y1="720.64" x2="117.70" y2="720.64" stroke="#000" stroke-width="1.4"/>
<text x="108.20" y="724.34" font-size="11" text-anchor="end" textLength="13.46" lengthAdjust="spacingAndGlyphs">20</text>
<line x1="113.50" y1="695.71" x2="117.70" y2="695.71" stroke="#000" stroke-width="1.4"/>
<text x="108.20" y="699.41" font-size="11" text-anchor="end" textLength="13.46" lengthAdjust="spacingAndGlyphs">30</text>
<line x1="113.50" y1="670.78" x2="117.70" y2="670.78" stroke="#000" stroke-width="1.4"/>
<text x="108.20" y="674.48" font-size="11" text-anchor="end" textLength="13.46" lengthAdjust="spacingAndGlyphs">40</text>
<line x1="113.50" y1="645.85" x2="117.70" y2="645.85" stroke="#000" stroke-width="1.4"/>
<text x="108.20" y="649.55" font-size="11" text-anchor="end" textLength="13.46" lengthAdjust="spacingAndGlyphs">50</text>
<line x1="113.50" y1="620.92" x2="117.70" y2="620.92" stroke="#000" stroke-width="1.4"/>
<text x="108.20" y="624.62" font-size="11" text-anchor="end" textLength="13.46" lengthAdjust="spacingAndGlyphs">60</text>
<line x1="113.50" y1="595.99" x2="117.70" y2="595.99" stroke="#000" stroke-width="1.4"/>
<text x="108.20" y="599.69" font-size="11" text-anchor="end" textLength="13.46" lengthAdjust="spacingAndGlyphs">70</text>
<line x1="113.50" y1="571.06" x2="117.70" y2="571.06" stroke="#000" stroke-width="1.4"/>
<text x="108.20" y="574.76" font-size="11" text-anchor="end" textLength="13.46" lengthAdjust="spacingAndGlyphs">80</text>
<line x1="113.50" y1="546.13" x2="117.70" y2="546.13" stroke="#000" stroke-width="1.4"/>
<text x="108.20" y="549.83" font-size="11" text-anchor="end" textLength="13.46" lengthAdjust="spacingAndGlyphs">90</text>
<line x1="113.50" y1="521.20" x2="117.70" y2="521.20" stroke="#000" stroke-width="1.4"/>
<text x="108.20" y="524.90" font-size="11" text-anchor="end" textLength="20.19" lengthAdjust="spacingAndGlyphs">100</text>
<line x1="117.70" y1="776.20" x2="117.70" y2="782.20" stroke="#000" stroke-width="1.4"/>
<text x="117.70" y="797.70" font-size="11" text-anchor="middle" textLength="6.73" lengthAdjust="spacingAndGlyphs">0</text>
<line x1="155.68" y1="776.20" x2="155.68" y2="782.20" stroke="#000" stroke-width="1.4"/>
<text x="155.68" y="797.70" font-size="11" text-anchor="middle" textLength="6.73" lengthAdjust="spacingAndGlyphs">1</text>
<line x1="193.66" y1="776.20" x2="193.66" y2="782.20" stroke="#000" stroke-width="1.4"/>
<text x="193.66" y="797.70" font-size="11" text-anchor="middle" textLength="6.73" lengthAdjust="spacingAndGlyphs">2</text>
<line x1="231.64" y1="776.20" x2="231.64" y2="782.20" stroke="#000" stroke-width="1.4"/>
<text x="231.64" y="797.70" font-size="11" text-anchor="middle" textLength="6.73" lengthAdjust="spacingAndGlyphs">3</text>
<line x1="269.62" y1="776.20" x2="269.62" y2="782.20" stroke="#000" stroke-width="1.4"/>
<text x="269.62" y="797.70" font-size="11" text-anchor="middle" textLength="6.73" lengthAdjust="spacingAndGlyphs">4</text>
<line x1="307.60" y1="776.20" x2="307.60" y2="782.20" stroke="#000" stroke-width="1.4"/>
<text x="307.60" y="797.70" font-size="11" text-anchor="middle" textLength="6.73" lengthAdjust="spacingAndGlyphs">5</text>
<line x1="345.58" y1="776.20" x2="345.58" y2="782.20" stroke="#000" stroke-width="1.4"/>
<text x="345.58" y="797.70" font-size="11" text-anchor="middle" textLength="6.73" lengthAdjust="spacingAndGlyphs">6</text>
<line x1="383.56" y1="776.20" x2="383.56" y2="782.20" stroke="#000" stroke-width="1.4"/>
<text x="383.56" y="797.70" font-size="11" text-anchor="middle" textLength="6.73" lengthAdjust="spacingAndGlyphs">7</text>
<line x1="421.54" y1="776.20" x2="421.54" y2="782.20" stroke="#000" stroke-width="1.4"/>
<text x="421.54" y="797.70" font-size="11" text-anchor="middle" textLength="6.73" lengthAdjust="spacingAndGlyphs">8</text>
<line x1="459.52" y1="776.20" x2="459.52" y2="782.20" stroke="#000" stroke-width="1.4"/>
<text x="459.52" y="797.70" font-size="11" text-anchor="middle" textLength="6.73" lengthAdjust="spacingAndGlyphs">9</text>
<line x1="497.50" y1="776.20" x2="497.50" y2="782.20" stroke="#000" stroke-width="1.4"/>
<text x="497.50" y="797.70" font-size="11" text-anchor="middle" textLength="13.46" lengthAdjust="spacingAndGlyphs">10</text>
<text x="275.10" y="820.30" font-size="15" textLength="66.50" lengthAdjust="spacingAndGlyphs">Time (years)</text>
<g transform="translate(79.30,645.80) rotate(-90)">
<text x="0.00" y="0.00" font-size="16.3" text-anchor="middle" textLength="99.00" lengthAdjust="spacingAndGlyphs">Overall survival, %</text>
</g>
<text x="307.50" y="845.10" font-size="10.6" text-anchor="middle" textLength="76.30" lengthAdjust="spacingAndGlyphs">Patients-at-Risk</text>
<text x="106.60" y="861.50" font-size="9.3" text-anchor="end" textLength="56.65" lengthAdjust="spacingAndGlyphs">Very Good (0)</text>
<text x="117.70" y="861.50" font-size="9.3" text-anchor="middle" textLength="15.05" lengthAdjust="spacingAndGlyphs">183</text>
<text x="155.68" y="861.50" font-size="9.3" text-anchor="middle" textLength="15.05" lengthAdjust="spacingAndGlyphs">162</text>
<text x="193.66" y="861.50" font-size="9.3" text-anchor="middle" textLength="15.05" lengthAdjust="spacingAndGlyphs">104</text>
<text x="231.64" y="861.50" font-size="9.3" text-anchor="middle" textLength="10.03" lengthAdjust="spacingAndGlyphs">49</text>
<text x="269.62" y="861.50" font-size="9.3" text-anchor="middle" textLength="10.03" lengthAdjust="spacingAndGlyphs">26</text>
<text x="307.60" y="861.50" font-size="9.3" text-anchor="middle" textLength="10.03" lengthAdjust="spacingAndGlyphs">21</text>
<text x="345.58" y="861.50" font-size="9.3" text-anchor="middle" textLength="10.03" lengthAdjust="spacingAndGlyphs">17</text>
<text x="383.56" y="861.50" font-size="9.3" text-anchor="middle" textLength="10.03" lengthAdjust="spacingAndGlyphs">13</text>
<text x="421.54" y="861.50" font-size="9.3" text-anchor="middle" textLength="5.02" lengthAdjust="spacingAndGlyphs">4</text>
<text x="459.52" y="861.50" font-size="9.3" text-anchor="middle" textLength="5.02" lengthAdjust="spacingAndGlyphs">3</text>
<text x="497.50" y="861.50" font-size="9.3" text-anchor="middle" textLength="5.02" lengthAdjust="spacingAndGlyphs">0</text>
<text x="106.60" y="877.10" font-size="9.3" text-anchor="end" textLength="43.62" lengthAdjust="spacingAndGlyphs">Good (1-2)</text>
<text x="117.70" y="877.10" font-size="9.3" text-anchor="middle" textLength="20.07" lengthAdjust="spacingAndGlyphs">1027</text>
<text x="155.68" y="877.10" font-size="9.3" text-anchor="middle" textLength="15.05" lengthAdjust="spacingAndGlyphs">919</text>
<text x="193.66" y="877.10" font-size="9.3" text-anchor="middle" textLength="15.05" lengthAdjust="spacingAndGlyphs">759</text>
<text x="231.64" y="877.10" font-size="9.3" text-anchor="middle" textLength="15.05" lengthAdjust="spacingAndGlyphs">610</text>
<text x="269.62" y="877.10" font-size="9.3" text-anchor="middle" textLength="15.05" lengthAdjust="spacingAndGlyphs">501</text>
<text x="307.60" y="877.10" font-size="9.3" text-anchor="middle" textLength="15.05" lengthAdjust="spacingAndGlyphs">400</text>
<text x="345.58" y="877.10" font-size="9.3" text-anchor="middle" textLength="15.05" lengthAdjust="spacingAndGlyphs">275</text>
<text x="383.56" y="877.10" font-size="9.3" text-anchor="middle" textLength="15.05" lengthAdjust="spacingAndGlyphs">158</text>
<text x="421.54" y="877.10" font-size="9.3" text-anchor="middle" textLength="10.03" lengthAdjust="spacingAndGlyphs">78</text>
<text x="459.52" y="877.10" font-size="9.3" text-anchor="middle" textLength="10.03" lengthAdjust="spacingAndGlyphs">12</text>
<text x="497.50" y="877.10" font-size="9.3" text-anchor="middle" textLength="5.02" lengthAdjust="spacingAndGlyphs">5</text>
<text x="106.60" y="892.70" font-size="9.3" text-anchor="end" textLength="40.61" lengthAdjust="spacingAndGlyphs">Poor (3-5)</text>
<text x="117.70" y="892.70" font-size="9.3" text-anchor="middle" textLength="15.05" lengthAdjust="spacingAndGlyphs">914</text>
<text x="155.68" y="892.70" font-size="9.3" text-anchor="middle" textLength="15.05" lengthAdjust="spacingAndGlyphs">733</text>
<text x="193.66" y="892.70" font-size="9.3" text-anchor="middle" textLength="15.05" lengthAdjust="spacingAndGlyphs">636</text>
<text x="231.64" y="892.70" font-size="9.3" text-anchor="middle" textLength="15.05" lengthAdjust="spacingAndGlyphs">542</text>
<text x="269.62" y="892.70" font-size="9.3" text-anchor="middle" textLength="15.05" lengthAdjust="spacingAndGlyphs">444</text>
<text x="307.60" y="892.70" font-size="9.3" text-anchor="middle" textLength="15.05" lengthAdjust="spacingAndGlyphs">337</text>
<text x="345.58" y="892.70" font-size="9.3" text-anchor="middle" textLength="15.05" lengthAdjust="spacingAndGlyphs">227</text>
<text x="383.56" y="892.70" font-size="9.3" text-anchor="middle" textLength="15.05" lengthAdjust="spacingAndGlyphs">133</text>
<text x="421.54" y="892.70" font-size="9.3" text-anchor="middle" textLength="10.03" lengthAdjust="spacingAndGlyphs">65</text>
<text x="459.52" y="892.70" font-size="9.3" text-anchor="middle" textLength="10.03" lengthAdjust="spacingAndGlyphs">37</text>
<text x="497.50" y="892.70" font-size="9.3" text-anchor="middle" textLength="10.03" lengthAdjust="spacingAndGlyphs">18</text>
<text x="194.60" y="712.50" font-size="9.3" text-anchor="middle" font-weight="bold" textLength="68.72" lengthAdjust="spacingAndGlyphs">R-IPI Risk Group</text>
<text x="264.30" y="712.50" font-size="9.3" text-anchor="middle" font-weight="bold" textLength="51.43" lengthAdjust="spacingAndGlyphs">Events/Total</text>
<text x="322.90" y="712.50" font-size="9.3" text-anchor="middle" font-weight="bold" textLength="44.69" lengthAdjust="spacingAndGlyphs">Time-Point</text>
<text x="357.20" y="712.50" font-size="9.3" font-weight="bold" textLength="68.67" lengthAdjust="spacingAndGlyphs">KM Est (95% CI)</text>
<line x1="134.20" y1="723.80" x2="146.40" y2="723.80" stroke="#5ea83a" stroke-width="1.8"/>
<text x="194.60" y="726.80" font-size="9.3" text-anchor="middle" textLength="56.65" lengthAdjust="spacingAndGlyphs">Very Good (0)</text>
<text x="264.30" y="726.80" font-size="9.3" text-anchor="middle" textLength="23.27" lengthAdjust="spacingAndGlyphs">9/183</text>
<text x="322.90" y="726.80" font-size="9.3" text-anchor="middle" textLength="28.85" lengthAdjust="spacingAndGlyphs">5 Years</text>
<text x="357.20" y="726.80" font-size="9.3" textLength="69.23" lengthAdjust="spacingAndGlyphs">92.5 (87.4-97.8%)</text>
<line x1="134.20" y1="737.70" x2="146.40" y2="737.70" stroke="#24427f" stroke-width="1.8"/>
<text x="194.60" y="741.00" font-size="9.3" text-anchor="middle" textLength="43.62" lengthAdjust="spacingAndGlyphs">Good (1-2)</text>
<text x="264.30" y="741.00" font-size="9.3" text-anchor="middle" textLength="38.79" lengthAdjust="spacingAndGlyphs">185/1027</text>
<text x="322.90" y="741.00" font-size="9.3" text-anchor="middle" textLength="28.85" lengthAdjust="spacingAndGlyphs">5 Years</text>
<text x="357.20" y="741.00" font-size="9.3" textLength="69.23" lengthAdjust="spacingAndGlyphs">81.3 (78.7-84.1%)</text>
<line x1="134.20" y1="752.00" x2="146.40" y2="752.00" stroke="#9e0529" stroke-width="1.8"/>
<text x="194.60" y="755.00" font-size="9.3" text-anchor="middle" textLength="40.61" lengthAdjust="spacingAndGlyphs">Poor (3-5)</text>
<text x="264.30" y="755.00" font-size="9.3" text-anchor="middle" textLength="33.62" lengthAdjust="spacingAndGlyphs">365/914</text>
<text x="322.90" y="755.00" font-size="9.3" text-anchor="middle" textLength="28.85" lengthAdjust="spacingAndGlyphs">5 Years</text>
<text x="357.20" y="755.00" font-size="9.3" textLength="69.23" lengthAdjust="spacingAndGlyphs">60.9 (57.6-64.3%)</text>
<text x="147.30" y="769.30" font-size="9.3" textLength="94.99" lengthAdjust="spacingAndGlyphs">Logrank P-value: &lt;.0001</text>
<text x="425.00" y="769.30" font-size="9.3" text-anchor="end" textLength="35.34" lengthAdjust="spacingAndGlyphs">+ Censor</text>
<text x="21.60" y="946.30" font-size="25" font-weight="bold" textLength="17.80" lengthAdjust="spacingAndGlyphs" fill="#000">C</text>
<text x="202.20" y="947.70" font-size="16" textLength="201.50" lengthAdjust="spacingAndGlyphs" fill="#111">Overall Survival by NCCN-IPI</text>
<path d="M116.4,963.5 126.5,963.8 130.3,963.8 130.3,965.3 138.0,965.3 138.0,966.7 147.7,966.7 147.7,967.7 152.5,968.2 157.3,968.2 157.3,969.1 164.0,969.1 164.0,970.1 165.9,970.1 165.9,971.8 170.2,971.8 170.2,972.8 174.6,972.8 174.6,973.9 183.2,973.9 183.2,975.3 191.9,975.3 191.9,976.7 200.0,976.7 200.0,978.6 221.2,978.6 221.2,980.1 223.5,980.5 224.0,980.5 224.0,981.6 224.5,981.6 224.5,982.8 478.5,982.8" fill="none" stroke="#5ea83a" stroke-width="1.45" stroke-linejoin="miter" stroke-linecap="butt"/>
<path d="M116.4,963.5 126.5,963.8 130.3,963.8 130.3,965.3 138.0,965.3 138.0,966.7 147.7,966.7 147.7,967.7 152.5,968.2 157.3,968.2 157.3,969.1 164.0,969.1 164.0,970.1 165.9,970.1 165.9,971.8 170.2,971.8 170.2,972.8 174.6,972.8 174.6,973.9 183.2,973.9 183.2,975.3 191.9,975.3 191.9,976.7 200.0,976.7 200.0,978.6 221.2,978.6 221.2,980.1 223.5,980.5 224.0,980.5 224.0,981.6" fill="none" stroke="#5ea83a" stroke-width="2.4" stroke-linejoin="round" stroke-linecap="round"/>
<path d="M119.3,961.9v3.8M116.7,961.9v3.8M123.0,961.9v3.8M118.5,961.9v3.8M119.0,961.9v3.8M120.4,961.9v3.8M122.9,961.9v3.8M126.4,961.9v3.8M130.3,961.9v3.8M130.3,961.9v3.8M127.4,961.9v3.8M131.5,963.4v3.8M136.8,963.4v3.8M134.9,963.4v3.8M137.4,963.4v3.8M137.8,963.4v3.8M135.3,963.4v3.8M134.4,963.4v3.8M138.2,964.8v3.8M145.8,964.8v3.8M144.5,964.8v3.8M145.4,964.8v3.8M143.5,964.8v3.8M144.5,964.8v3.8M144.2,964.8v3.8M146.7,964.8v3.8M150.1,966.3v3.8M149.2,966.3v3.8M151.7,966.3v3.8M151.9,966.3v3.8M152.9,966.3v3.8M153.7,966.3v3.8M154.0,966.3v3.8M156.2,966.3v3.8M162.3,967.2v3.8M159.3,967.2v3.8M160.8,967.2v3.8M158.5,967.2v3.8M161.6,967.2v3.8M165.6,968.2v3.8M165.8,968.2v3.8M166.5,969.9v3.8M174.1,970.9v3.8M174.1,970.9v3.8M170.0,969.9v3.8M170.1,969.9v3.8M174.0,970.9v3.8M168.1,969.9v3.8M180.6,972.0v3.8M180.4,972.0v3.8M180.5,972.0v3.8M181.7,972.0v3.8M179.0,972.0v3.8M178.2,972.0v3.8M176.5,972.0v3.8M186.4,973.4v3.8M187.0,973.4v3.8M189.6,973.4v3.8M188.6,973.4v3.8M187.6,973.4v3.8M186.5,973.4v3.8M188.6,973.4v3.8M198.4,974.8v3.8M197.1,974.8v3.8M197.5,974.8v3.8M194.9,974.8v3.8M196.1,974.8v3.8M197.7,974.8v3.8M199.6,974.8v3.8M206.8,976.7v3.8M214.6,976.7v3.8M202.5,976.7v3.8M207.1,976.7v3.8M200.7,976.7v3.8M211.7,976.7v3.8M205.4,976.7v3.8M208.3,976.7v3.8M216.7,976.7v3.8M213.5,976.7v3.8M200.8,976.7v3.8M209.4,976.7v3.8M200.1,976.7v3.8M217.5,976.7v3.8M210.5,976.7v3.8M218.0,976.7v3.8M205.6,976.7v3.8M221.5,978.6v3.8M223.2,978.6v3.8M223.6,978.6v3.8M437.0,980.9v3.8M273.7,980.9v3.8M371.2,980.9v3.8M345.5,980.9v3.8M260.8,980.9v3.8M332.5,980.9v3.8M471.6,980.9v3.8M321.2,980.9v3.8M417.2,980.9v3.8M417.6,980.9v3.8M419.9,980.9v3.8M380.0,980.9v3.8M453.7,980.9v3.8M311.4,980.9v3.8M346.1,980.9v3.8M338.2,980.9v3.8M250.1,980.9v3.8M348.7,980.9v3.8M418.1,980.9v3.8M370.3,980.9v3.8M269.6,980.9v3.8M286.1,980.9v3.8M347.5,980.9v3.8M251.4,980.9v3.8M275.5,980.9v3.8M412.3,980.9v3.8M251.6,980.9v3.8M253.6,980.9v3.8M264.8,980.9v3.8M356.0,980.9v3.8M229.9,980.9v3.8M398.9,980.9v3.8M368.3,980.9v3.8M417.4,980.9v3.8M421.4,980.9v3.8" stroke="#5ea83a" stroke-width="1.15" fill="none"/>
<path d="M116.4,963.5 126.5,963.8 128.4,963.8 128.4,965.8 133.2,965.8 133.2,967.2 138.0,967.2 138.0,969.1 142.8,969.1 142.8,971.1 145.2,971.1 145.2,972.3 147.7,972.3 147.7,973.5 152.5,973.5 152.5,975.4 157.3,975.4 157.3,977.3 164.0,977.3 164.0,978.8 174.6,978.8 174.6,980.5 178.9,980.5 178.9,981.8 183.2,981.8 183.2,983.1 191.9,983.1 191.9,984.8 200.0,984.8 200.0,986.4 205.3,986.4 205.3,988.0 210.6,988.0 210.6,989.6 221.2,989.6 221.2,991.3 231.7,991.3 231.7,992.8 237.0,992.8 237.0,994.4 242.3,994.4 242.3,996.0 247.6,996.0 247.6,997.0 252.9,997.0 252.9,998.1 258.2,998.1 258.2,999.2 263.5,999.2 263.5,1000.2 274.0,1000.2 274.0,1001.9 279.3,1001.9 279.3,1003.0 284.6,1003.0 284.6,1004.0 295.2,1004.0 305.0,1004.5 315.6,1004.5 315.6,1005.8 326.2,1005.8 326.2,1007.1 331.4,1007.1 331.4,1008.4 336.7,1008.4 336.7,1009.6 342.0,1009.6 342.0,1010.7 347.3,1010.7 347.3,1011.7 357.9,1011.7 357.9,1013.8 368.5,1013.8 368.5,1015.5 379.0,1015.5 379.0,1016.4 389.6,1016.4 398.1,1016.4 398.1,1018.1 399.4,1018.1 399.4,1019.4 400.8,1019.4 400.8,1020.8 402.1,1020.8 402.1,1022.1 403.4,1022.1 403.4,1023.4 415.0,1023.4 415.0,1024.4 441.3,1024.8 441.9,1033.0 465.6,1033.0 465.6,1059.3 488.3,1059.3" fill="none" stroke="#24427f" stroke-width="1.45" stroke-linejoin="miter" stroke-linecap="butt"/>
<path d="M116.4,963.5 126.5,963.8 128.4,963.8 128.4,965.8 133.2,965.8 133.2,967.2 138.0,967.2 138.0,969.1 142.8,969.1 142.8,971.1 145.2,971.1 145.2,972.3 147.7,972.3 147.7,973.5 152.5,973.5 152.5,975.4 157.3,975.4 157.3,977.3 164.0,977.3 164.0,978.8 174.6,978.8 174.6,980.5 178.9,980.5 178.9,981.8 183.2,981.8 183.2,983.1 191.9,983.1 191.9,984.8 200.0,984.8 200.0,986.4 205.3,986.4 205.3,988.0 210.6,988.0 210.6,989.6 221.2,989.6 221.2,991.3 231.7,991.3 231.7,992.8 237.0,992.8 237.0,994.4 242.3,994.4 242.3,996.0 247.6,996.0 247.6,997.0 252.9,997.0 252.9,998.1 258.2,998.1 258.2,999.2 263.5,999.2 263.5,1000.2 274.0,1000.2 274.0,1001.9 279.3,1001.9 279.3,1003.0 284.6,1003.0 284.6,1004.0 295.2,1004.0 305.0,1004.5 315.6,1004.5 315.6,1005.8 326.2,1005.8 326.2,1007.1 331.4,1007.1 331.4,1008.4 336.7,1008.4 336.7,1009.6 342.0,1009.6 342.0,1010.7 347.3,1010.7 347.3,1011.7 357.9,1011.7 357.9,1013.8 368.5,1013.8 368.5,1015.5 379.0,1015.5 379.0,1016.4 389.6,1016.4 398.1,1016.4 398.1,1018.1 399.4,1018.1 399.4,1019.4" fill="none" stroke="#24427f" stroke-width="2.5" stroke-linejoin="round" stroke-linecap="round"/>
<path d="M117.5,961.9v3.8M120.4,961.9v3.8M123.3,961.9v3.8M117.8,961.9v3.8M117.5,961.9v3.8M118.7,961.9v3.8M124.1,961.9v3.8M117.9,961.9v3.8M123.9,961.9v3.8M123.1,961.9v3.8M127.5,961.9v3.8M127.4,961.9v3.8M133.2,963.9v3.8M128.8,963.9v3.8M128.5,963.9v3.8M132.9,963.9v3.8M134.2,965.3v3.8M134.8,965.3v3.8M135.0,965.3v3.8M137.8,965.3v3.8M139.0,967.2v3.8M140.8,967.2v3.8M140.6,967.2v3.8M142.6,967.2v3.8M142.0,967.2v3.8M143.8,969.2v3.8M146.9,970.4v3.8M147.6,970.4v3.8M142.9,969.2v3.8M146.4,970.4v3.8M150.8,971.6v3.8M148.7,971.6v3.8M151.5,971.6v3.8M151.2,971.6v3.8M155.6,973.5v3.8M153.6,973.5v3.8M152.7,973.5v3.8M154.1,973.5v3.8M154.1,973.5v3.8M161.6,975.4v3.8M162.9,975.4v3.8M163.7,975.4v3.8M163.8,975.4v3.8M164.0,975.4v3.8M162.6,975.4v3.8M165.9,976.9v3.8M170.6,976.9v3.8M169.8,976.9v3.8M171.1,976.9v3.8M165.0,976.9v3.8M166.0,976.9v3.8M173.8,976.9v3.8M170.4,976.9v3.8M171.4,976.9v3.8M165.0,976.9v3.8M182.4,979.9v3.8M180.2,979.9v3.8M183.1,979.9v3.8M176.3,978.6v3.8M178.5,978.6v3.8M181.5,979.9v3.8M178.4,978.6v3.8M181.4,979.9v3.8M184.2,981.2v3.8M184.1,981.2v3.8M191.8,981.2v3.8M184.2,981.2v3.8M184.9,981.2v3.8M186.1,981.2v3.8M189.4,981.2v3.8M190.6,981.2v3.8M195.9,982.9v3.8M198.3,982.9v3.8M194.2,982.9v3.8M194.9,982.9v3.8M196.9,982.9v3.8M197.1,982.9v3.8M192.2,982.9v3.8M201.5,984.5v3.8M207.7,986.1v3.8M207.3,986.1v3.8M210.3,986.1v3.8M208.1,986.1v3.8M202.7,984.5v3.8M208.1,986.1v3.8M210.4,986.1v3.8M203.7,984.5v3.8M200.1,984.5v3.8M213.6,987.7v3.8M212.5,987.7v3.8M211.1,987.7v3.8M211.9,987.7v3.8M219.8,987.7v3.8M211.1,987.7v3.8M217.1,987.7v3.8M212.8,987.7v3.8M212.6,987.7v3.8M219.3,987.7v3.8M223.1,989.4v3.8M226.0,989.4v3.8M228.5,989.4v3.8M226.7,989.4v3.8M230.2,989.4v3.8M225.4,989.4v3.8M226.7,989.4v3.8M228.7,989.4v3.8M226.0,989.4v3.8M228.7,989.4v3.8M233.1,990.9v3.8M233.0,990.9v3.8M240.0,992.5v3.8M239.6,992.5v3.8M241.7,992.5v3.8M239.0,992.5v3.8M237.8,992.5v3.8M233.5,990.9v3.8M240.7,992.5v3.8M233.0,990.9v3.8M243.8,994.1v3.8M246.3,994.1v3.8M245.6,994.1v3.8M246.8,994.1v3.8M249.8,995.1v3.8M248.0,995.1v3.8M244.9,994.1v3.8M250.6,995.1v3.8M250.1,995.1v3.8M251.1,995.1v3.8M259.4,997.3v3.8M262.4,997.3v3.8M255.6,996.2v3.8M255.0,996.2v3.8M261.5,997.3v3.8M256.8,996.2v3.8M257.2,996.2v3.8M261.6,997.3v3.8M257.0,996.2v3.8M255.0,996.2v3.8M267.1,998.3v3.8M270.8,998.3v3.8M267.4,998.3v3.8M271.6,998.3v3.8M264.2,998.3v3.8M266.1,998.3v3.8M270.1,998.3v3.8M268.5,998.3v3.8M268.7,998.3v3.8M273.3,998.3v3.8M275.9,1000.0v3.8M274.4,1000.0v3.8M279.1,1000.0v3.8M277.1,1000.0v3.8M279.0,1000.0v3.8M274.1,1000.0v3.8M274.0,1000.0v3.8M278.0,1000.0v3.8M282.0,1001.1v3.8M277.2,1000.0v3.8M290.7,1002.1v3.8M288.9,1002.1v3.8M292.8,1002.1v3.8M287.1,1002.1v3.8M291.0,1002.1v3.8M293.6,1002.1v3.8M290.3,1002.1v3.8M288.0,1002.1v3.8M285.6,1002.1v3.8M297.0,1002.6v3.8M298.9,1002.6v3.8M300.5,1002.6v3.8M304.4,1002.6v3.8M301.8,1002.6v3.8M300.3,1002.6v3.8M303.6,1002.6v3.8M298.2,1002.6v3.8M299.0,1002.6v3.8M310.9,1002.6v3.8M307.3,1002.6v3.8M309.4,1002.6v3.8M313.7,1002.6v3.8M307.6,1002.6v3.8M312.5,1002.6v3.8M305.5,1002.6v3.8M315.1,1002.6v3.8M312.3,1002.6v3.8M326.0,1003.9v3.8M324.0,1003.9v3.8M316.3,1003.9v3.8M318.2,1003.9v3.8M320.8,1003.9v3.8M326.2,1003.9v3.8M317.1,1003.9v3.8M316.1,1003.9v3.8M318.9,1003.9v3.8M316.1,1003.9v3.8M331.9,1006.5v3.8M330.8,1005.2v3.8M327.7,1005.2v3.8M326.4,1005.2v3.8M334.6,1006.5v3.8M330.8,1005.2v3.8M331.2,1005.2v3.8M331.2,1005.2v3.8M333.4,1006.5v3.8M335.7,1006.5v3.8M344.4,1008.8v3.8M340.3,1007.7v3.8M338.5,1007.7v3.8M337.7,1007.7v3.8M345.8,1008.8v3.8M337.3,1007.7v3.8M342.7,1008.8v3.8M346.3,1008.8v3.8M340.1,1007.7v3.8M351.7,1009.8v3.8M357.3,1009.8v3.8M354.6,1009.8v3.8M356.2,1009.8v3.8M347.7,1009.8v3.8M355.0,1009.8v3.8M352.1,1009.8v3.8M351.6,1009.8v3.8M356.0,1009.8v3.8M355.1,1009.8v3.8M365.7,1011.9v3.8M367.5,1011.9v3.8M362.4,1011.9v3.8M363.8,1011.9v3.8M366.2,1011.9v3.8M362.7,1011.9v3.8M359.4,1011.9v3.8M364.1,1011.9v3.8M367.1,1011.9v3.8M369.8,1013.6v3.8M372.5,1013.6v3.8M370.9,1013.6v3.8M372.1,1013.6v3.8M378.6,1013.6v3.8M372.9,1013.6v3.8M371.8,1013.6v3.8M371.4,1013.6v3.8M373.1,1013.6v3.8M382.6,1014.5v3.8M381.0,1014.5v3.8M381.4,1014.5v3.8M381.8,1014.5v3.8M388.6,1014.5v3.8M380.8,1014.5v3.8M387.0,1014.5v3.8M380.1,1014.5v3.8M387.3,1014.5v3.8M396.2,1014.5v3.8M393.3,1014.5v3.8M390.3,1014.5v3.8M390.4,1014.5v3.8M396.4,1014.5v3.8M394.2,1014.5v3.8M393.7,1014.5v3.8M392.6,1014.5v3.8M400.7,1017.5v3.8M410.4,1021.5v3.8M407.0,1021.5v3.8M413.2,1021.5v3.8M435.4,1022.9v3.8M418.2,1022.9v3.8M433.6,1022.9v3.8M431.1,1022.9v3.8M437.4,1022.9v3.8M438.3,1022.9v3.8M429.5,1022.9v3.8M448.2,1031.1v3.8M454.8,1031.1v3.8M460.5,1031.1v3.8M456.0,1031.1v3.8M454.8,1031.1v3.8M462.2,1031.1v3.8M471.5,1057.4v3.8M467.3,1057.4v3.8M479.5,1057.4v3.8M469.0,1057.4v3.8M487.6,1057.4v3.8" stroke="#24427f" stroke-width="1.15" fill="none"/>
<path d="M116.4,963.5 117.6,963.5 117.6,965.1 118.8,965.1 118.8,966.7 121.7,966.7 121.7,968.7 123.6,968.7 123.6,970.1 125.5,970.1 125.5,971.5 126.5,971.5 126.5,972.8 127.4,972.8 127.4,974.1 128.4,974.1 128.4,975.4 129.9,975.4 129.9,976.8 131.3,976.8 131.3,978.3 134.2,978.3 134.2,980.2 135.6,980.2 135.6,981.7 137.1,981.7 137.1,983.1 138.1,983.1 138.1,984.4 139.0,984.4 139.0,985.6 140.0,985.6 140.0,986.9 142.8,986.9 142.8,988.8 144.2,988.8 144.2,990.2 145.7,990.2 145.7,991.7 146.7,991.7 146.7,993.0 147.6,993.0 147.6,994.3 148.6,994.3 148.6,995.6 149.6,995.6 149.6,997.2 150.5,997.2 150.5,998.8 151.5,998.8 151.5,1000.4 152.9,1000.4 152.9,1001.8 154.4,1001.8 154.4,1003.3 155.9,1003.3 155.9,1004.8 157.3,1004.8 157.3,1006.2 158.8,1006.2 158.8,1007.6 160.2,1007.6 160.2,1009.0 162.1,1009.0 162.1,1010.7 164.0,1010.7 164.0,1012.4 165.9,1012.4 165.9,1011.6 168.1,1011.6 168.1,1013.1 170.2,1013.1 170.2,1014.7 172.4,1014.7 172.4,1016.2 174.6,1016.2 174.6,1017.7 176.8,1017.7 176.8,1019.0 178.9,1019.0 178.9,1020.3 181.0,1020.3 181.0,1021.6 183.2,1021.6 183.2,1022.9 186.1,1022.9 186.1,1024.3 189.0,1024.3 189.0,1025.8 191.9,1025.8 191.9,1027.2 194.6,1027.2 194.6,1028.8 197.3,1028.8 197.3,1030.3 200.0,1030.3 200.0,1031.9 202.7,1031.9 202.7,1033.2 205.3,1033.2 205.3,1034.6 207.9,1034.6 207.9,1035.9 210.6,1035.9 210.6,1037.2 215.9,1037.2 215.9,1038.6 221.2,1038.6 221.2,1040.0 231.7,1040.0 231.7,1040.8 242.3,1040.8 242.3,1042.5 245.8,1042.5 245.8,1043.8 249.4,1043.8 249.4,1045.0 252.9,1045.0 252.9,1046.3 263.5,1046.3 263.5,1047.8 268.8,1047.8 268.8,1048.8 274.0,1048.8 274.0,1049.9 279.3,1049.9 279.3,1051.5 284.6,1051.5 284.6,1053.1 289.9,1053.1 289.9,1054.2 295.2,1054.2 295.2,1055.2 300.1,1055.2 300.1,1056.6 305.0,1056.6 305.0,1057.9 317.7,1057.9 317.7,1059.3 321.9,1059.3 321.9,1060.9 326.2,1060.9 326.2,1062.5 336.7,1062.5 336.7,1064.2 347.3,1064.2 347.3,1065.0 352.6,1065.0 352.6,1066.7 357.9,1066.7 357.9,1068.4 376.9,1068.4 379.0,1068.4 379.0,1069.6 381.2,1069.6 381.2,1070.8 383.3,1070.8 383.3,1072.0 389.6,1072.0 389.6,1074.1 404.4,1074.1 404.4,1074.8 408.7,1074.8 408.7,1076.3 419.7,1076.7 420.5,1076.7 420.5,1078.2 421.4,1078.2 421.4,1079.7 488.3,1079.7" fill="none" stroke="#e48f12" stroke-width="1.45" stroke-linejoin="miter" stroke-linecap="butt"/>
<path d="M116.4,963.5 117.6,963.5 117.6,965.1 118.8,965.1 118.8,966.7 121.7,966.7 121.7,968.7 123.6,968.7 123.6,970.1 125.5,970.1 125.5,971.5 126.5,971.5 126.5,972.8 127.4,972.8 127.4,974.1 128.4,974.1 128.4,975.4 129.9,975.4 129.9,976.8 131.3,976.8 131.3,978.3 134.2,978.3 134.2,980.2 135.6,980.2 135.6,981.7 137.1,981.7 137.1,983.1 138.1,983.1 138.1,984.4 139.0,984.4 139.0,985.6 140.0,985.6 140.0,986.9 142.8,986.9 142.8,988.8 144.2,988.8 144.2,990.2 145.7,990.2 145.7,991.7 146.7,991.7 146.7,993.0 147.6,993.0 147.6,994.3 148.6,994.3 148.6,995.6 149.6,995.6 149.6,997.2 150.5,997.2 150.5,998.8 151.5,998.8 151.5,1000.4 152.9,1000.4 152.9,1001.8 154.4,1001.8 154.4,1003.3 155.9,1003.3 155.9,1004.8 157.3,1004.8 157.3,1006.2 158.8,1006.2 158.8,1007.6 160.2,1007.6 160.2,1009.0 162.1,1009.0 162.1,1010.7 164.0,1010.7 164.0,1012.4 165.9,1012.4 165.9,1011.6 168.1,1011.6 168.1,1013.1 170.2,1013.1 170.2,1014.7 172.4,1014.7 172.4,1016.2 174.6,1016.2 174.6,1017.7 176.8,1017.7 176.8,1019.0 178.9,1019.0 178.9,1020.3 181.0,1020.3 181.0,1021.6 183.2,1021.6 183.2,1022.9 186.1,1022.9 186.1,1024.3 189.0,1024.3 189.0,1025.8 191.9,1025.8 191.9,1027.2 194.6,1027.2 194.6,1028.8 197.3,1028.8 197.3,1030.3 200.0,1030.3 200.0,1031.9 202.7,1031.9 202.7,1033.2 205.3,1033.2 205.3,1034.6 207.9,1034.6 207.9,1035.9 210.6,1035.9 210.6,1037.2 215.9,1037.2 215.9,1038.6 221.2,1038.6 221.2,1040.0 231.7,1040.0 231.7,1040.8 242.3,1040.8 242.3,1042.5 245.8,1042.5 245.8,1043.8 249.4,1043.8 249.4,1045.0 252.9,1045.0 252.9,1046.3 263.5,1046.3 263.5,1047.8 268.8,1047.8 268.8,1048.8 274.0,1048.8 274.0,1049.9 279.3,1049.9 279.3,1051.5 284.6,1051.5 284.6,1053.1 289.9,1053.1 289.9,1054.2 295.2,1054.2 295.2,1055.2 300.1,1055.2 300.1,1056.6 305.0,1056.6 305.0,1057.9 317.7,1057.9 317.7,1059.3 321.9,1059.3 321.9,1060.9 326.2,1060.9 326.2,1062.5 336.7,1062.5 336.7,1064.2 347.3,1064.2 347.3,1065.0 352.6,1065.0 352.6,1066.7 357.9,1066.7 357.9,1068.4 376.9,1068.4 379.0,1068.4 379.0,1069.6 381.2,1069.6 381.2,1070.8 383.3,1070.8 383.3,1072.0 389.6,1072.0 389.6,1074.1 404.4,1074.1 404.4,1074.8 408.7,1074.8 408.7,1076.3 419.7,1076.7" fill="none" stroke="#e48f12" stroke-width="2.3" stroke-linejoin="round" stroke-linecap="round"/>
<path d="M116.9,961.6v3.8M117.1,961.6v3.8M118.6,963.2v3.8M120.9,964.8v3.8M119.1,964.8v3.8M120.3,964.8v3.8M123.7,968.2v3.8M125.3,968.2v3.8M125.1,968.2v3.8M125.5,969.6v3.8M127.7,972.2v3.8M125.9,969.6v3.8M130.5,974.9v3.8M130.8,974.9v3.8M130.8,974.9v3.8M131.9,976.4v3.8M131.5,976.4v3.8M137.0,979.8v3.8M134.5,978.3v3.8M134.7,978.3v3.8M137.2,981.2v3.8M137.2,981.2v3.8M138.1,982.5v3.8M140.9,985.0v3.8M142.6,985.0v3.8M140.5,985.0v3.8M144.9,988.4v3.8M144.4,988.4v3.8M147.9,992.4v3.8M147.4,991.1v3.8M146.4,989.8v3.8M149.3,993.7v3.8M149.8,995.3v3.8M151.5,996.9v3.8M151.7,998.5v3.8M152.9,998.5v3.8M153.9,999.9v3.8M156.4,1002.9v3.8M154.7,1001.4v3.8M154.6,1001.4v3.8M157.4,1004.3v3.8M158.2,1004.3v3.8M160.9,1007.1v3.8M160.3,1007.1v3.8M160.2,1007.1v3.8M163.8,1008.8v3.8M165.8,1010.5v3.8M164.9,1010.5v3.8M173.4,1014.3v3.8M171.3,1012.8v3.8M170.5,1012.8v3.8M170.3,1012.8v3.8M167.9,1009.7v3.8M169.2,1011.2v3.8M172.2,1012.8v3.8M181.9,1019.7v3.8M179.0,1018.4v3.8M179.8,1018.4v3.8M181.7,1019.7v3.8M180.2,1018.4v3.8M175.8,1015.8v3.8M176.7,1015.8v3.8M174.6,1015.8v3.8M191.5,1023.9v3.8M188.4,1022.4v3.8M191.6,1023.9v3.8M190.0,1023.9v3.8M185.9,1021.0v3.8M191.6,1023.9v3.8M191.2,1023.9v3.8M187.2,1022.4v3.8M194.5,1025.3v3.8M193.2,1025.3v3.8M194.9,1026.9v3.8M192.6,1025.3v3.8M197.7,1028.4v3.8M199.8,1028.4v3.8M193.6,1025.3v3.8M198.2,1028.4v3.8M205.1,1031.3v3.8M209.6,1034.0v3.8M204.0,1031.3v3.8M208.7,1034.0v3.8M200.4,1030.0v3.8M210.2,1034.0v3.8M201.9,1030.0v3.8M200.0,1030.0v3.8M209.3,1034.0v3.8M217.8,1036.7v3.8M218.7,1036.7v3.8M214.6,1035.3v3.8M211.8,1035.3v3.8M214.0,1035.3v3.8M220.7,1036.7v3.8M221.0,1036.7v3.8M213.0,1035.3v3.8M215.3,1035.3v3.8M230.7,1038.1v3.8M221.3,1038.1v3.8M229.9,1038.1v3.8M223.9,1038.1v3.8M227.0,1038.1v3.8M222.6,1038.1v3.8M222.1,1038.1v3.8M230.5,1038.1v3.8M226.5,1038.1v3.8M240.9,1038.9v3.8M239.7,1038.9v3.8M232.5,1038.9v3.8M237.9,1038.9v3.8M242.2,1038.9v3.8M237.0,1038.9v3.8M232.4,1038.9v3.8M233.7,1038.9v3.8M242.2,1038.9v3.8M244.9,1040.6v3.8M245.7,1040.6v3.8M249.9,1043.1v3.8M247.7,1041.9v3.8M244.3,1040.6v3.8M252.7,1043.1v3.8M248.9,1041.9v3.8M246.2,1041.9v3.8M242.5,1040.6v3.8M260.9,1044.4v3.8M254.8,1044.4v3.8M253.8,1044.4v3.8M260.6,1044.4v3.8M262.7,1044.4v3.8M256.9,1044.4v3.8M257.9,1044.4v3.8M259.6,1044.4v3.8M258.4,1044.4v3.8M254.3,1044.4v3.8M265.7,1045.9v3.8M265.6,1045.9v3.8M264.4,1045.9v3.8M267.6,1045.9v3.8M265.8,1045.9v3.8M272.4,1046.9v3.8M266.9,1045.9v3.8M273.6,1046.9v3.8M272.0,1046.9v3.8M266.3,1045.9v3.8M280.1,1049.6v3.8M279.0,1048.0v3.8M279.7,1049.6v3.8M275.3,1048.0v3.8M279.6,1049.6v3.8M282.0,1049.6v3.8M278.7,1048.0v3.8M276.7,1048.0v3.8M283.8,1049.6v3.8M277.1,1048.0v3.8M291.9,1052.2v3.8M284.6,1051.2v3.8M289.3,1051.2v3.8M286.2,1051.2v3.8M292.9,1052.2v3.8M289.1,1051.2v3.8M285.5,1051.2v3.8M294.7,1052.2v3.8M293.1,1052.2v3.8M300.8,1054.7v3.8M295.9,1053.3v3.8M304.8,1054.7v3.8M298.2,1053.3v3.8M300.3,1054.7v3.8M300.0,1053.3v3.8M299.8,1053.3v3.8M295.4,1053.3v3.8M304.0,1054.7v3.8M310.0,1056.0v3.8M315.9,1056.0v3.8M315.9,1056.0v3.8M314.1,1056.0v3.8M316.5,1056.0v3.8M309.4,1056.0v3.8M306.3,1056.0v3.8M309.4,1056.0v3.8M312.6,1056.0v3.8M315.0,1056.0v3.8M314.3,1056.0v3.8M322.8,1059.0v3.8M323.4,1059.0v3.8M322.6,1059.0v3.8M317.8,1057.4v3.8M322.3,1059.0v3.8M320.0,1057.4v3.8M318.3,1057.4v3.8M322.9,1059.0v3.8M329.2,1060.6v3.8M333.2,1060.6v3.8M332.8,1060.6v3.8M333.4,1060.6v3.8M335.4,1060.6v3.8M333.5,1060.6v3.8M327.0,1060.6v3.8M332.7,1060.6v3.8M329.9,1060.6v3.8M343.9,1062.3v3.8M338.5,1062.3v3.8M343.3,1062.3v3.8M346.6,1062.3v3.8M337.5,1062.3v3.8M345.7,1062.3v3.8M344.2,1062.3v3.8M341.0,1062.3v3.8M344.8,1062.3v3.8M337.5,1062.3v3.8M357.9,1064.8v3.8M353.9,1064.8v3.8M349.1,1063.1v3.8M348.7,1063.1v3.8M352.0,1063.1v3.8M353.1,1064.8v3.8M357.8,1064.8v3.8M349.3,1063.1v3.8M354.0,1064.8v3.8M352.0,1063.1v3.8M375.8,1066.5v3.8M360.1,1066.5v3.8M373.8,1066.5v3.8M371.8,1066.5v3.8M363.0,1066.5v3.8M360.2,1066.5v3.8M372.1,1066.5v3.8M374.1,1066.5v3.8M364.5,1066.5v3.8M360.5,1066.5v3.8M368.4,1066.5v3.8M370.6,1066.5v3.8M364.7,1066.5v3.8M365.7,1066.5v3.8M359.8,1066.5v3.8M360.6,1066.5v3.8M362.1,1066.5v3.8M377.7,1066.5v3.8M378.2,1066.5v3.8M379.9,1067.7v3.8M378.2,1066.5v3.8M378.4,1066.5v3.8M381.6,1068.9v3.8M386.8,1070.1v3.8M383.8,1070.1v3.8M386.6,1070.1v3.8M387.7,1070.1v3.8M386.1,1070.1v3.8M384.5,1070.1v3.8M393.7,1072.2v3.8M395.6,1072.2v3.8M391.1,1072.2v3.8M395.9,1072.2v3.8M397.1,1072.2v3.8M390.5,1072.2v3.8M399.4,1072.2v3.8M403.7,1072.2v3.8M400.0,1072.2v3.8M396.3,1072.2v3.8M401.9,1072.2v3.8M403.6,1072.2v3.8M403.7,1072.2v3.8M403.7,1072.2v3.8M408.5,1072.9v3.8M407.7,1072.9v3.8M405.8,1072.9v3.8M405.0,1072.9v3.8M416.4,1074.8v3.8M411.7,1074.8v3.8M412.7,1074.8v3.8M409.6,1074.8v3.8M409.2,1074.8v3.8M411.5,1074.8v3.8M418.0,1074.8v3.8M409.4,1074.8v3.8M410.3,1074.8v3.8M413.1,1074.8v3.8M424.3,1077.8v3.8M424.7,1077.8v3.8M444.4,1077.8v3.8M421.8,1077.8v3.8M466.3,1077.8v3.8M425.6,1077.8v3.8M434.1,1077.8v3.8M426.5,1077.8v3.8M439.5,1077.8v3.8M427.3,1077.8v3.8M432.4,1077.8v3.8M434.4,1077.8v3.8M437.0,1077.8v3.8M463.8,1077.8v3.8M446.1,1077.8v3.8M435.3,1077.8v3.8M422.2,1077.8v3.8M479.3,1077.8v3.8M478.5,1077.8v3.8M484.8,1077.8v3.8" stroke="#e48f12" stroke-width="1.15" fill="none"/>
<path d="M116.4,963.5 116.8,963.5 116.8,965.0 117.1,965.0 117.1,966.5 117.5,966.5 117.5,968.1 117.8,968.1 117.8,969.6 118.1,969.6 118.1,971.0 118.4,971.0 118.4,972.3 118.7,972.3 118.7,973.7 118.9,973.7 118.9,975.1 119.2,975.1 119.2,976.5 119.5,976.5 119.5,977.8 119.8,977.8 119.8,979.2 120.4,979.2 120.4,980.8 121.1,980.8 121.1,982.4 121.7,982.4 121.7,984.0 122.3,984.0 122.3,985.3 123.0,985.3 123.0,986.6 123.6,986.6 123.6,987.9 126.5,987.9 126.5,989.8 126.8,989.8 126.8,991.1 127.1,991.1 127.1,992.4 127.5,992.4 127.5,993.6 127.8,993.6 127.8,994.9 128.1,994.9 128.1,996.2 128.4,996.2 128.4,997.5 129.9,997.5 129.9,999.0 131.3,999.0 131.3,1000.4 131.6,1000.4 131.6,1002.0 132.0,1002.0 132.0,1003.6 132.3,1003.6 132.3,1005.2 133.8,1005.2 133.8,1006.7 135.2,1006.7 135.2,1008.1 135.8,1008.1 135.8,1009.6 136.3,1009.6 136.3,1011.2 136.9,1011.2 136.9,1012.7 137.4,1012.7 137.4,1014.3 138.0,1014.3 138.0,1015.8 139.0,1015.8 139.0,1017.1 139.9,1017.1 139.9,1018.3 140.9,1018.3 140.9,1019.6 141.3,1019.6 141.3,1021.1 141.7,1021.1 141.7,1022.7 142.0,1022.7 142.0,1024.2 142.4,1024.2 142.4,1025.8 142.8,1025.8 142.8,1027.3 143.1,1027.3 143.1,1028.9 143.5,1028.9 143.5,1030.5 143.8,1030.5 143.8,1032.1 145.2,1032.1 145.2,1033.5 146.7,1033.5 146.7,1035.0 147.7,1035.0 147.7,1036.6 148.6,1036.6 148.6,1038.2 149.6,1038.2 149.6,1039.8 150.3,1039.8 150.3,1041.2 151.1,1041.2 151.1,1042.7 151.8,1042.7 151.8,1044.1 152.5,1044.1 152.5,1045.6 154.4,1045.6 154.4,1047.0 156.3,1047.0 156.3,1048.5 160.2,1048.5 160.2,1050.4 160.6,1050.4 160.6,1051.6 161.1,1051.6 161.1,1052.8 165.0,1053.1 165.3,1053.1 165.3,1054.4 165.7,1054.4 165.7,1055.6 166.0,1055.6 166.0,1056.9 170.8,1056.9 170.8,1058.8 180.4,1058.8 180.4,1059.8 186.2,1059.8 186.2,1061.7 187.5,1061.7 187.5,1063.0 188.7,1063.0 188.7,1064.3 190.0,1064.3 190.0,1065.6 192.4,1065.6 192.4,1067.0 194.8,1067.0 194.8,1068.5 200.0,1068.9 206.3,1068.9 206.3,1070.0 207.7,1070.0 207.7,1071.4 209.2,1071.4 209.2,1072.8 210.6,1072.8 210.6,1074.2 213.8,1074.2 213.8,1075.8 216.9,1075.8 216.9,1077.4 225.4,1077.4 225.4,1079.5 233.8,1079.5 233.8,1081.6 242.3,1081.6 242.3,1082.7 252.9,1082.7 252.9,1083.8 256.1,1083.8 256.1,1084.8 259.2,1084.8 259.2,1085.9 265.6,1086.5 267.0,1086.5 267.0,1087.7 268.4,1087.7 268.4,1088.9 269.8,1088.9 269.8,1090.1 274.0,1090.1 274.0,1091.6 299.4,1091.6 303.7,1091.6 303.7,1093.3 311.3,1093.3 311.3,1094.2 312.4,1094.2 312.4,1095.6 313.5,1095.6 313.5,1097.0 344.1,1097.0 345.2,1097.0 345.2,1098.3 346.2,1098.3 346.2,1099.7 347.3,1099.7 347.3,1101.0 348.4,1101.0 348.4,1102.3 364.2,1102.3 365.6,1102.3 365.6,1103.7 367.1,1103.7 367.1,1105.1 368.5,1105.1 368.5,1106.5 369.6,1106.5 369.6,1107.8 370.6,1107.8 370.6,1109.0 396.0,1109.0 396.2,1109.0 396.2,1110.5 396.5,1110.5 396.5,1112.0 396.8,1112.0 396.8,1113.5 397.0,1113.5 397.0,1115.0 416.2,1115.0 416.3,1115.0 416.3,1116.4 416.4,1116.4 416.4,1117.8 416.6,1117.8 416.6,1119.3 416.7,1119.3 416.7,1120.7 416.8,1120.7 416.8,1122.1 435.3,1122.1 435.8,1128.6 469.9,1128.6 470.4,1138.5 488.3,1138.5" fill="none" stroke="#9e0529" stroke-width="1.45" stroke-linejoin="miter" stroke-linecap="butt"/>
<path d="M116.4,963.5 116.8,963.5 116.8,965.0 117.1,965.0 117.1,966.5 117.5,966.5 117.5,968.1 117.8,968.1 117.8,969.6 118.1,969.6 118.1,971.0 118.4,971.0 118.4,972.3 118.7,972.3 118.7,973.7 118.9,973.7 118.9,975.1 119.2,975.1 119.2,976.5 119.5,976.5 119.5,977.8 119.8,977.8 119.8,979.2 120.4,979.2 120.4,980.8 121.1,980.8 121.1,982.4 121.7,982.4 121.7,984.0 122.3,984.0 122.3,985.3 123.0,985.3 123.0,986.6 123.6,986.6 123.6,987.9 126.5,987.9 126.5,989.8 126.8,989.8 126.8,991.1 127.1,991.1 127.1,992.4 127.5,992.4 127.5,993.6 127.8,993.6 127.8,994.9 128.1,994.9 128.1,996.2 128.4,996.2 128.4,997.5 129.9,997.5 129.9,999.0 131.3,999.0 131.3,1000.4 131.6,1000.4 131.6,1002.0 132.0,1002.0 132.0,1003.6 132.3,1003.6 132.3,1005.2 133.8,1005.2 133.8,1006.7 135.2,1006.7 135.2,1008.1 135.8,1008.1 135.8,1009.6 136.3,1009.6 136.3,1011.2 136.9,1011.2 136.9,1012.7 137.4,1012.7 137.4,1014.3 138.0,1014.3 138.0,1015.8 139.0,1015.8 139.0,1017.1 139.9,1017.1 139.9,1018.3 140.9,1018.3 140.9,1019.6 141.3,1019.6 141.3,1021.1 141.7,1021.1 141.7,1022.7 142.0,1022.7 142.0,1024.2 142.4,1024.2 142.4,1025.8 142.8,1025.8 142.8,1027.3 143.1,1027.3 143.1,1028.9 143.5,1028.9 143.5,1030.5 143.8,1030.5 143.8,1032.1 145.2,1032.1 145.2,1033.5 146.7,1033.5 146.7,1035.0 147.7,1035.0 147.7,1036.6 148.6,1036.6 148.6,1038.2 149.6,1038.2 149.6,1039.8 150.3,1039.8 150.3,1041.2 151.1,1041.2 151.1,1042.7 151.8,1042.7 151.8,1044.1 152.5,1044.1 152.5,1045.6 154.4,1045.6 154.4,1047.0 156.3,1047.0 156.3,1048.5 160.2,1048.5 160.2,1050.4 160.6,1050.4 160.6,1051.6 161.1,1051.6 161.1,1052.8 165.0,1053.1 165.3,1053.1 165.3,1054.4 165.7,1054.4 165.7,1055.6 166.0,1055.6 166.0,1056.9 170.8,1056.9 170.8,1058.8 180.4,1058.8 180.4,1059.8 186.2,1059.8 186.2,1061.7 187.5,1061.7 187.5,1063.0 188.7,1063.0 188.7,1064.3 190.0,1064.3 190.0,1065.6 192.4,1065.6 192.4,1067.0 194.8,1067.0 194.8,1068.5 200.0,1068.9 206.3,1068.9 206.3,1070.0 207.7,1070.0 207.7,1071.4 209.2,1071.4 209.2,1072.8 210.6,1072.8 210.6,1074.2 213.8,1074.2 213.8,1075.8 216.9,1075.8 216.9,1077.4 225.4,1077.4 225.4,1079.5 233.8,1079.5 233.8,1081.6 242.3,1081.6 242.3,1082.7 252.9,1082.7 252.9,1083.8 256.1,1083.8 256.1,1084.8 259.2,1084.8 259.2,1085.9 265.6,1086.5 267.0,1086.5 267.0,1087.7 268.4,1087.7 268.4,1088.9 269.8,1088.9 269.8,1090.1 274.0,1090.1 274.0,1091.6 299.4,1091.6" fill="none" stroke="#9e0529" stroke-width="1.7" stroke-linejoin="round" stroke-linecap="round"/>
<path d="M117.3,964.6v3.8M118.4,969.1v3.8M121.5,980.5v3.8M122.1,982.1v3.8M125.4,986.0v3.8M125.1,986.0v3.8M127.5,991.8v3.8M131.1,997.1v3.8M130.2,997.1v3.8M131.6,998.5v3.8M132.5,1003.3v3.8M134.1,1004.8v3.8M136.4,1009.3v3.8M140.7,1016.4v3.8M142.2,1022.3v3.8M142.9,1025.4v3.8M144.6,1030.2v3.8M149.3,1036.3v3.8M148.9,1036.3v3.8M150.5,1039.3v3.8M150.3,1037.9v3.8M152.5,1043.7v3.8M154.5,1045.1v3.8M153.7,1043.7v3.8M157.0,1046.6v3.8M156.7,1046.6v3.8M161.0,1049.7v3.8M163.3,1051.2v3.8M161.6,1051.2v3.8M165.1,1051.2v3.8M166.3,1055.0v3.8M167.3,1055.0v3.8M167.0,1055.0v3.8M177.1,1056.9v3.8M175.2,1056.9v3.8M175.3,1056.9v3.8M174.2,1056.9v3.8M176.0,1056.9v3.8M178.3,1056.9v3.8M180.8,1057.9v3.8M183.2,1057.9v3.8M182.6,1057.9v3.8M184.9,1057.9v3.8M189.5,1062.4v3.8M186.3,1059.8v3.8M188.3,1061.1v3.8M191.5,1063.7v3.8M194.3,1065.1v3.8M193.4,1065.1v3.8M197.4,1067.0v3.8M198.0,1067.0v3.8M195.0,1067.0v3.8M203.8,1067.0v3.8M204.6,1067.0v3.8M202.9,1067.0v3.8M202.7,1067.0v3.8M207.4,1068.1v3.8M210.1,1070.9v3.8M210.4,1070.9v3.8M210.7,1072.3v3.8M213.1,1072.3v3.8M215.7,1073.9v3.8M212.6,1072.3v3.8M218.5,1075.5v3.8M222.9,1075.5v3.8M222.2,1075.5v3.8M219.3,1075.5v3.8M222.2,1075.5v3.8M233.5,1077.6v3.8M232.4,1077.6v3.8M229.0,1077.6v3.8M232.2,1077.6v3.8M233.2,1077.6v3.8M240.2,1079.7v3.8M238.8,1079.7v3.8M238.1,1079.7v3.8M241.0,1079.7v3.8M239.1,1079.7v3.8M244.7,1080.8v3.8M243.3,1080.8v3.8M245.2,1080.8v3.8M248.5,1080.8v3.8M248.4,1080.8v3.8M244.4,1080.8v3.8M258.9,1082.9v3.8M253.4,1081.9v3.8M258.7,1082.9v3.8M257.8,1082.9v3.8M265.6,1084.6v3.8M263.6,1084.6v3.8M259.2,1084.6v3.8M265.2,1084.6v3.8M269.4,1087.0v3.8M269.0,1087.0v3.8M266.2,1084.6v3.8M269.9,1088.2v3.8M273.1,1088.2v3.8M273.1,1088.2v3.8M276.9,1089.7v3.8M283.3,1089.7v3.8M294.3,1089.7v3.8M292.8,1089.7v3.8M296.0,1089.7v3.8M298.6,1089.7v3.8M293.2,1089.7v3.8M295.2,1089.7v3.8M274.4,1089.7v3.8M274.2,1089.7v3.8M295.9,1089.7v3.8M289.7,1089.7v3.8M282.3,1089.7v3.8M277.3,1089.7v3.8M282.4,1089.7v3.8M282.6,1089.7v3.8M301.3,1089.7v3.8M304.3,1091.4v3.8M305.2,1091.4v3.8M311.5,1092.3v3.8M317.5,1095.1v3.8M338.0,1095.1v3.8M330.2,1095.1v3.8M327.6,1095.1v3.8M333.1,1095.1v3.8M320.7,1095.1v3.8M344.4,1095.1v3.8M354.1,1100.4v3.8M352.4,1100.4v3.8M353.2,1100.4v3.8M364.2,1100.4v3.8M377.8,1107.1v3.8M389.0,1107.1v3.8M376.3,1107.1v3.8M371.7,1107.1v3.8M374.7,1107.1v3.8M399.2,1113.1v3.8M415.6,1113.1v3.8M409.4,1113.1v3.8M415.4,1113.1v3.8M417.6,1120.2v3.8M421.2,1120.2v3.8M431.5,1120.2v3.8M449.0,1126.7v3.8M465.7,1126.7v3.8M438.4,1126.7v3.8M457.1,1126.7v3.8M442.2,1126.7v3.8M442.6,1126.7v3.8M465.9,1126.7v3.8M475.5,1136.6v3.8M483.5,1136.6v3.8M486.6,1136.6v3.8" stroke="#9e0529" stroke-width="1.15" fill="none"/>
<rect x="116.50" y="956.90" width="371.90" height="264.40" fill="none" stroke="#000" stroke-width="1.8"/>
<line x1="110.10" y1="1215.40" x2="116.50" y2="1215.40" stroke="#000" stroke-width="1.4"/>
<text x="105.30" y="1219.10" font-size="11" text-anchor="end" textLength="6.73" lengthAdjust="spacingAndGlyphs">0</text>
<line x1="110.10" y1="1190.21" x2="116.50" y2="1190.21" stroke="#000" stroke-width="1.4"/>
<text x="105.30" y="1193.91" font-size="11" text-anchor="end" textLength="13.46" lengthAdjust="spacingAndGlyphs">10</text>
<line x1="110.10" y1="1165.02" x2="116.50" y2="1165.02" stroke="#000" stroke-width="1.4"/>
<text x="105.30" y="1168.72" font-size="11" text-anchor="end" textLength="13.46" lengthAdjust="spacingAndGlyphs">20</text>
<line x1="110.10" y1="1139.83" x2="116.50" y2="1139.83" stroke="#000" stroke-width="1.4"/>
<text x="105.30" y="1143.53" font-size="11" text-anchor="end" textLength="13.46" lengthAdjust="spacingAndGlyphs">30</text>
<line x1="110.10" y1="1114.64" x2="116.50" y2="1114.64" stroke="#000" stroke-width="1.4"/>
<text x="105.30" y="1118.34" font-size="11" text-anchor="end" textLength="13.46" lengthAdjust="spacingAndGlyphs">40</text>
<line x1="110.10" y1="1089.45" x2="116.50" y2="1089.45" stroke="#000" stroke-width="1.4"/>
<text x="105.30" y="1093.15" font-size="11" text-anchor="end" textLength="13.46" lengthAdjust="spacingAndGlyphs">50</text>
<line x1="110.10" y1="1064.26" x2="116.50" y2="1064.26" stroke="#000" stroke-width="1.4"/>
<text x="105.30" y="1067.96" font-size="11" text-anchor="end" textLength="13.46" lengthAdjust="spacingAndGlyphs">60</text>
<line x1="110.10" y1="1039.07" x2="116.50" y2="1039.07" stroke="#000" stroke-width="1.4"/>
<text x="105.30" y="1042.77" font-size="11" text-anchor="end" textLength="13.46" lengthAdjust="spacingAndGlyphs">70</text>
<line x1="110.10" y1="1013.88" x2="116.50" y2="1013.88" stroke="#000" stroke-width="1.4"/>
<text x="105.30" y="1017.58" font-size="11" text-anchor="end" textLength="13.46" lengthAdjust="spacingAndGlyphs">80</text>
<line x1="110.10" y1="988.69" x2="116.50" y2="988.69" stroke="#000" stroke-width="1.4"/>
<text x="105.30" y="992.39" font-size="11" text-anchor="end" textLength="13.46" lengthAdjust="spacingAndGlyphs">90</text>
<line x1="110.10" y1="963.50" x2="116.50" y2="963.50" stroke="#000" stroke-width="1.4"/>
<text x="105.30" y="967.20" font-size="11" text-anchor="end" textLength="20.19" lengthAdjust="spacingAndGlyphs">100</text>
<line x1="116.40" y1="1221.30" x2="116.40" y2="1227.30" stroke="#000" stroke-width="1.4"/>
<text x="116.40" y="1242.70" font-size="11" text-anchor="middle" textLength="6.73" lengthAdjust="spacingAndGlyphs">0</text>
<line x1="153.59" y1="1221.30" x2="153.59" y2="1227.30" stroke="#000" stroke-width="1.4"/>
<text x="153.59" y="1242.70" font-size="11" text-anchor="middle" textLength="6.73" lengthAdjust="spacingAndGlyphs">1</text>
<line x1="190.78" y1="1221.30" x2="190.78" y2="1227.30" stroke="#000" stroke-width="1.4"/>
<text x="190.78" y="1242.70" font-size="11" text-anchor="middle" textLength="6.73" lengthAdjust="spacingAndGlyphs">2</text>
<line x1="227.97" y1="1221.30" x2="227.97" y2="1227.30" stroke="#000" stroke-width="1.4"/>
<text x="227.97" y="1242.70" font-size="11" text-anchor="middle" textLength="6.73" lengthAdjust="spacingAndGlyphs">3</text>
<line x1="265.16" y1="1221.30" x2="265.16" y2="1227.30" stroke="#000" stroke-width="1.4"/>
<text x="265.16" y="1242.70" font-size="11" text-anchor="middle" textLength="6.73" lengthAdjust="spacingAndGlyphs">4</text>
<line x1="302.35" y1="1221.30" x2="302.35" y2="1227.30" stroke="#000" stroke-width="1.4"/>
<text x="302.35" y="1242.70" font-size="11" text-anchor="middle" textLength="6.73" lengthAdjust="spacingAndGlyphs">5</text>
<line x1="339.54" y1="1221.30" x2="339.54" y2="1227.30" stroke="#000" stroke-width="1.4"/>
<text x="339.54" y="1242.70" font-size="11" text-anchor="middle" textLength="6.73" lengthAdjust="spacingAndGlyphs">6</text>
<line x1="376.73" y1="1221.30" x2="376.73" y2="1227.30" stroke="#000" stroke-width="1.4"/>
<text x="376.73" y="1242.70" font-size="11" text-anchor="middle" textLength="6.73" lengthAdjust="spacingAndGlyphs">7</text>
<line x1="413.92" y1="1221.30" x2="413.92" y2="1227.30" stroke="#000" stroke-width="1.4"/>
<text x="413.92" y="1242.70" font-size="11" text-anchor="middle" textLength="6.73" lengthAdjust="spacingAndGlyphs">8</text>
<line x1="451.11" y1="1221.30" x2="451.11" y2="1227.30" stroke="#000" stroke-width="1.4"/>
<text x="451.11" y="1242.70" font-size="11" text-anchor="middle" textLength="6.73" lengthAdjust="spacingAndGlyphs">9</text>
<line x1="488.30" y1="1221.30" x2="488.30" y2="1227.30" stroke="#000" stroke-width="1.4"/>
<text x="488.30" y="1242.70" font-size="11" text-anchor="middle" textLength="13.46" lengthAdjust="spacingAndGlyphs">10</text>
<text x="269.60" y="1262.80" font-size="15" textLength="66.80" lengthAdjust="spacingAndGlyphs">Time (years)</text>
<g transform="translate(75.90,1089.20) rotate(-90)">
<text x="0.00" y="0.00" font-size="16.3" text-anchor="middle" textLength="98.80" lengthAdjust="spacingAndGlyphs">Overall survival, %</text>
</g>
<text x="302.30" y="1287.30" font-size="10.6" text-anchor="middle" textLength="75.80" lengthAdjust="spacingAndGlyphs">Patients-at-Risk</text>
<text x="105.10" y="1303.60" font-size="9.3" text-anchor="end" textLength="38.10" lengthAdjust="spacingAndGlyphs">Low (0-1)</text>
<text x="116.40" y="1303.60" font-size="9.3" text-anchor="middle" textLength="15.05" lengthAdjust="spacingAndGlyphs">281</text>
<text x="153.59" y="1303.60" font-size="9.3" text-anchor="middle" textLength="15.05" lengthAdjust="spacingAndGlyphs">246</text>
<text x="190.78" y="1303.60" font-size="9.3" text-anchor="middle" textLength="15.05" lengthAdjust="spacingAndGlyphs">162</text>
<text x="227.97" y="1303.60" font-size="9.3" text-anchor="middle" textLength="10.03" lengthAdjust="spacingAndGlyphs">80</text>
<text x="265.16" y="1303.60" font-size="9.3" text-anchor="middle" textLength="10.03" lengthAdjust="spacingAndGlyphs">46</text>
<text x="302.35" y="1303.60" font-size="9.3" text-anchor="middle" textLength="10.03" lengthAdjust="spacingAndGlyphs">37</text>
<text x="339.54" y="1303.60" font-size="9.3" text-anchor="middle" textLength="10.03" lengthAdjust="spacingAndGlyphs">32</text>
<text x="376.73" y="1303.60" font-size="9.3" text-anchor="middle" textLength="10.03" lengthAdjust="spacingAndGlyphs">23</text>
<text x="413.92" y="1303.60" font-size="9.3" text-anchor="middle" textLength="10.03" lengthAdjust="spacingAndGlyphs">10</text>
<text x="451.11" y="1303.60" font-size="9.3" text-anchor="middle" textLength="5.02" lengthAdjust="spacingAndGlyphs">3</text>
<text x="488.30" y="1303.60" font-size="9.3" text-anchor="middle" textLength="5.02" lengthAdjust="spacingAndGlyphs">0</text>
<text x="105.10" y="1319.40" font-size="9.3" text-anchor="end" textLength="91.25" lengthAdjust="spacingAndGlyphs">Low-Intermediate (2-3)</text>
<text x="116.40" y="1319.40" font-size="9.3" text-anchor="middle" textLength="15.05" lengthAdjust="spacingAndGlyphs">864</text>
<text x="153.59" y="1319.40" font-size="9.3" text-anchor="middle" textLength="15.05" lengthAdjust="spacingAndGlyphs">786</text>
<text x="190.78" y="1319.40" font-size="9.3" text-anchor="middle" textLength="15.05" lengthAdjust="spacingAndGlyphs">662</text>
<text x="227.97" y="1319.40" font-size="9.3" text-anchor="middle" textLength="15.05" lengthAdjust="spacingAndGlyphs">541</text>
<text x="265.16" y="1319.40" font-size="9.3" text-anchor="middle" textLength="15.05" lengthAdjust="spacingAndGlyphs">452</text>
<text x="302.35" y="1319.40" font-size="9.3" text-anchor="middle" textLength="15.05" lengthAdjust="spacingAndGlyphs">360</text>
<text x="339.54" y="1319.40" font-size="9.3" text-anchor="middle" textLength="15.05" lengthAdjust="spacingAndGlyphs">244</text>
<text x="376.73" y="1319.40" font-size="9.3" text-anchor="middle" textLength="15.05" lengthAdjust="spacingAndGlyphs">146</text>
<text x="413.92" y="1319.40" font-size="9.3" text-anchor="middle" textLength="10.03" lengthAdjust="spacingAndGlyphs">69</text>
<text x="451.11" y="1319.40" font-size="9.3" text-anchor="middle" textLength="5.02" lengthAdjust="spacingAndGlyphs">9</text>
<text x="488.30" y="1319.40" font-size="9.3" text-anchor="middle" textLength="5.02" lengthAdjust="spacingAndGlyphs">3</text>
<text x="105.10" y="1335.00" font-size="9.3" text-anchor="end" textLength="93.25" lengthAdjust="spacingAndGlyphs">High-Intermediate (4-5)</text>
<text x="116.40" y="1335.00" font-size="9.3" text-anchor="middle" textLength="15.05" lengthAdjust="spacingAndGlyphs">764</text>
<text x="153.59" y="1335.00" font-size="9.3" text-anchor="middle" textLength="15.05" lengthAdjust="spacingAndGlyphs">640</text>
<text x="190.78" y="1335.00" font-size="9.3" text-anchor="middle" textLength="15.05" lengthAdjust="spacingAndGlyphs">550</text>
<text x="227.97" y="1335.00" font-size="9.3" text-anchor="middle" textLength="15.05" lengthAdjust="spacingAndGlyphs">473</text>
<text x="265.16" y="1335.00" font-size="9.3" text-anchor="middle" textLength="15.05" lengthAdjust="spacingAndGlyphs">383</text>
<text x="302.35" y="1335.00" font-size="9.3" text-anchor="middle" textLength="15.05" lengthAdjust="spacingAndGlyphs">289</text>
<text x="339.54" y="1335.00" font-size="9.3" text-anchor="middle" textLength="15.05" lengthAdjust="spacingAndGlyphs">193</text>
<text x="376.73" y="1335.00" font-size="9.3" text-anchor="middle" textLength="15.05" lengthAdjust="spacingAndGlyphs">109</text>
<text x="413.92" y="1335.00" font-size="9.3" text-anchor="middle" textLength="10.03" lengthAdjust="spacingAndGlyphs">52</text>
<text x="451.11" y="1335.00" font-size="9.3" text-anchor="middle" textLength="10.03" lengthAdjust="spacingAndGlyphs">30</text>
<text x="488.30" y="1335.00" font-size="9.3" text-anchor="middle" textLength="10.03" lengthAdjust="spacingAndGlyphs">15</text>
<text x="105.10" y="1350.60" font-size="9.3" text-anchor="end" textLength="40.11" lengthAdjust="spacingAndGlyphs">High (6-8)</text>
<text x="116.40" y="1350.60" font-size="9.3" text-anchor="middle" textLength="15.05" lengthAdjust="spacingAndGlyphs">215</text>
<text x="153.59" y="1350.60" font-size="9.3" text-anchor="middle" textLength="15.05" lengthAdjust="spacingAndGlyphs">142</text>
<text x="190.78" y="1350.60" font-size="9.3" text-anchor="middle" textLength="15.05" lengthAdjust="spacingAndGlyphs">125</text>
<text x="227.97" y="1350.60" font-size="9.3" text-anchor="middle" textLength="15.05" lengthAdjust="spacingAndGlyphs">107</text>
<text x="265.16" y="1350.60" font-size="9.3" text-anchor="middle" textLength="10.03" lengthAdjust="spacingAndGlyphs">90</text>
<text x="302.35" y="1350.60" font-size="9.3" text-anchor="middle" textLength="10.03" lengthAdjust="spacingAndGlyphs">72</text>
<text x="339.54" y="1350.60" font-size="9.3" text-anchor="middle" textLength="10.03" lengthAdjust="spacingAndGlyphs">50</text>
<text x="376.73" y="1350.60" font-size="9.3" text-anchor="middle" textLength="10.03" lengthAdjust="spacingAndGlyphs">26</text>
<text x="413.92" y="1350.60" font-size="9.3" text-anchor="middle" textLength="10.03" lengthAdjust="spacingAndGlyphs">16</text>
<text x="451.11" y="1350.60" font-size="9.3" text-anchor="middle" textLength="10.03" lengthAdjust="spacingAndGlyphs">10</text>
<text x="488.30" y="1350.60" font-size="9.3" text-anchor="middle" textLength="5.02" lengthAdjust="spacingAndGlyphs">5</text>
<text x="198.10" y="1139.30" font-size="9.3" text-anchor="middle" font-weight="bold" textLength="87.46" lengthAdjust="spacingAndGlyphs">NCCN-IPI Risk Group</text>
<text x="278.10" y="1139.30" font-size="9.3" text-anchor="middle" font-weight="bold" textLength="51.43" lengthAdjust="spacingAndGlyphs">Events/Total</text>
<text x="336.30" y="1139.30" font-size="9.3" text-anchor="middle" font-weight="bold" textLength="44.69" lengthAdjust="spacingAndGlyphs">Time-Point</text>
<text x="370.80" y="1139.30" font-size="9.3" font-weight="bold" textLength="68.67" lengthAdjust="spacingAndGlyphs">KM Est (95% CI)</text>
<line x1="134.20" y1="1151.50" x2="146.60" y2="1151.50" stroke="#5ea83a" stroke-width="1.8"/>
<text x="198.10" y="1154.30" font-size="9.3" text-anchor="middle" textLength="38.10" lengthAdjust="spacingAndGlyphs">Low (0-1)</text>
<text x="278.10" y="1154.30" font-size="9.3" text-anchor="middle" textLength="28.44" lengthAdjust="spacingAndGlyphs">16/281</text>
<text x="336.30" y="1154.30" font-size="9.3" text-anchor="middle" textLength="28.85" lengthAdjust="spacingAndGlyphs">5 Years</text>
<text x="370.80" y="1154.30" font-size="9.3" textLength="69.23" lengthAdjust="spacingAndGlyphs">92.1 (88.3-96.1%)</text>
<line x1="134.20" y1="1166.50" x2="146.60" y2="1166.50" stroke="#24427f" stroke-width="1.8"/>
<text x="198.10" y="1169.30" font-size="9.3" text-anchor="middle" textLength="91.25" lengthAdjust="spacingAndGlyphs">Low-Intermediate (2-3)</text>
<text x="278.10" y="1169.30" font-size="9.3" text-anchor="middle" textLength="33.62" lengthAdjust="spacingAndGlyphs">136/864</text>
<text x="336.30" y="1169.30" font-size="9.3" text-anchor="middle" textLength="28.85" lengthAdjust="spacingAndGlyphs">5 Years</text>
<text x="370.80" y="1169.30" font-size="9.3" textLength="69.23" lengthAdjust="spacingAndGlyphs">83.9 (81.1-86.7%)</text>
<line x1="134.20" y1="1181.10" x2="146.60" y2="1181.10" stroke="#e48f12" stroke-width="1.8"/>
<text x="198.10" y="1184.20" font-size="9.3" text-anchor="middle" textLength="93.25" lengthAdjust="spacingAndGlyphs">High-Intermediate (4-5)</text>
<text x="278.10" y="1184.20" font-size="9.3" text-anchor="middle" textLength="33.62" lengthAdjust="spacingAndGlyphs">289/764</text>
<text x="336.30" y="1184.20" font-size="9.3" text-anchor="middle" textLength="28.85" lengthAdjust="spacingAndGlyphs">5 Years</text>
<text x="370.80" y="1184.20" font-size="9.3" textLength="69.23" lengthAdjust="spacingAndGlyphs">62.7 (59.2-66.4%)</text>
<line x1="134.20" y1="1195.90" x2="146.60" y2="1195.90" stroke="#9e0529" stroke-width="1.8"/>
<text x="198.10" y="1198.70" font-size="9.3" text-anchor="middle" textLength="40.11" lengthAdjust="spacingAndGlyphs">High (6-8)</text>
<text x="278.10" y="1198.70" font-size="9.3" text-anchor="middle" textLength="33.62" lengthAdjust="spacingAndGlyphs">118/215</text>
<text x="336.30" y="1198.70" font-size="9.3" text-anchor="middle" textLength="28.85" lengthAdjust="spacingAndGlyphs">5 Years</text>
<text x="370.80" y="1198.70" font-size="9.3" textLength="69.23" lengthAdjust="spacingAndGlyphs">49.0 (42.6-56.3%)</text>
<text x="150.30" y="1213.50" font-size="9.3" textLength="94.99" lengthAdjust="spacingAndGlyphs">Logrank P-value: &lt;.0001</text>
<text x="438.00" y="1213.50" font-size="9.3" text-anchor="end" textLength="35.34" lengthAdjust="spacingAndGlyphs">+ Censor</text>
</svg>
</body></html>
